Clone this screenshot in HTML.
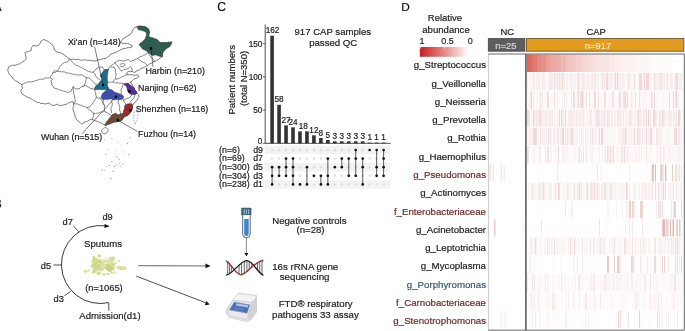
<!DOCTYPE html>
<html><head><meta charset="utf-8"><style>
html,body{margin:0;padding:0;background:#fff;width:685px;height:331px;overflow:hidden}
svg{display:block;will-change:transform}
text{font-family:"Liberation Sans",sans-serif}
</style></head><body>
<svg width="685" height="331" viewBox="0 0 685 331">
<path d="M7.6,70.0 L8.3,68.6 L8.3,67.0 L10.0,66.6 L11.3,65.5 L13.2,65.1 L15.1,65.5 L16.2,64.7 L17.7,64.8 L18.9,64.0 L20.3,63.4 L21.6,62.6 L22.8,61.6 L24.2,61.0 L25.4,59.9 L26.4,58.7 L26.1,57.2 L25.7,55.7 L25.4,54.2 L24.9,52.7 L26.3,52.0 L27.9,51.9 L29.4,51.1 L31.0,50.4 L31.3,48.9 L31.7,47.4 L32.6,46.4 L33.2,45.1 L35.0,45.9 L37.0,45.9 L38.7,45.1 L40.0,43.6 L40.8,41.3 L42.3,40.4 L43.8,39.4 L46.1,40.6 L48.0,41.3 L49.5,42.4 L51.0,43.6 L52.3,45.0 L53.3,46.6 L54.1,48.0 L54.1,49.6 L55.5,50.5 L56.3,51.9 L58.2,52.3 L60.1,52.7 L61.7,53.3 L63.1,54.1 L64.6,54.9 L65.6,56.2 L67.1,56.9 L68.4,57.9 L69.5,58.7 L70.7,59.5 L72.2,59.3 L73.7,59.1 L75.2,59.5 L76.7,59.4 L78.3,59.3 L79.8,59.7 L81.3,60.3 L82.8,59.9 L84.3,60.1 L85.8,59.7 L87.3,60.4 L88.8,60.4 L90.3,60.2 L91.9,60.8 L93.6,60.9 L95.5,60.8 L97.3,59.9 L98.9,59.8 L100.5,59.6 L102.1,59.0 L103.5,58.6 L105.0,58.5 L106.5,58.1 L107.5,57.0 L108.9,56.4 L109.8,55.2 L110.9,54.1 L112.3,53.6 L114.2,53.1 L115.9,52.2 L117.3,51.7 L118.5,50.9 L119.9,50.2 L121.3,49.5 L122.7,48.8 L124.1,48.5 L125.6,48.5 L126.9,47.8 L128.5,47.6 L130.1,47.7 L131.7,47.2 L132.2,45.6 L130.5,44.9 L129.0,44.0 L127.6,43.5 L126.2,43.3 L124.8,43.5 L123.4,43.4 L122.0,43.1 L120.6,43.0 L121.1,40.9 L122.4,39.8 L123.2,38.2 L124.9,37.6 L126.4,36.6 L128.0,35.8 L129.6,35.1 L130.5,33.8 L131.7,32.9 L132.1,31.3 L132.8,29.8 L133.7,28.8 L134.3,27.6 L136.6,26.8 L138.4,26.1 L140.4,26.0 L141.8,26.6 L143.4,26.3 L144.9,26.8 L146.2,28.2 L148.0,29.1 L148.9,30.5 L149.5,32.1 L148.6,33.2 L148.3,34.6 L148.0,35.9 L148.7,37.4 L150.6,37.8 L152.5,38.1 L153.8,38.6 L155.0,39.2 L156.3,39.6 L157.5,40.7 L158.9,41.5 L160.0,42.7 L161.3,42.4 L162.7,42.7 L164.0,43.1 L165.3,42.7 L166.7,42.7 L168.0,42.0 L169.4,42.5 L170.8,42.3 L172.1,41.9 L171.3,43.0 L171.4,44.5 L170.6,45.7 L169.2,46.3 L168.3,47.6 L166.8,48.0 L165.2,49.0 L163.8,50.2 L163.2,51.8 L162.3,53.2 L162.2,55.1 L161.6,57.0 L159.6,58.3 L157.8,60.1 L156.4,60.4 L155.4,61.3 L153.0,61.9 L151.7,63.1 L150.0,63.7 L148.7,64.6 L147.5,65.6 L146.0,65.9 L144.9,67.0 L143.6,67.6 L142.1,68.0 L140.7,68.5 L139.7,69.7 L138.5,70.4 L136.0,71.0 L134.8,72.8 L133.5,72.0 L132.0,71.5 L130.4,71.7 L129.0,71.0 L127.0,72.5 L126.8,74.8 L129.3,74.7 L130.9,74.8 L132.6,74.8 L134.2,75.3 L136.0,75.2 L137.8,74.7 L139.0,76.5 L137.7,77.7 L136.0,78.3 L134.3,78.8 L133.0,80.1 L132.0,81.3 L130.5,81.9 L131.0,83.2 L132.1,84.1 L132.4,85.5 L133.5,86.6 L134.2,88.0 L134.5,89.3 L135.4,90.4 L136.3,91.5 L136.6,92.8 L137.8,94.0 L138.7,95.1 L139.0,96.4 L138.2,97.5 L137.8,98.8 L137.0,100.1 L136.0,101.3 L135.3,102.5 L134.0,103.0 L132.8,105.0 L132.1,106.4 L132.6,108.1 L132.0,109.5 L131.6,111.0 L130.7,112.1 L129.8,113.3 L128.6,114.4 L127.5,115.6 L126.2,115.9 L125.1,116.9 L123.7,117.1 L123.0,118.6 L122.0,119.9 L120.7,120.9 L119.3,121.7 L117.7,121.6 L116.2,121.9 L114.6,121.9 L113.1,122.4 L111.8,122.7 L110.5,123.1 L109.4,123.9 L107.7,124.4 L106.3,125.4 L104.7,125.0 L103.2,124.3 L101.8,123.3 L100.2,122.8 L98.8,121.9 L97.2,121.3 L95.7,120.8 L94.1,120.5 L92.7,119.7 L91.2,119.2 L89.9,119.7 L88.8,120.4 L87.7,121.1 L86.4,121.6 L84.0,122.2 L82.8,124.0 L81.4,123.7 L80.4,122.8 L79.1,121.9 L77.9,121.0 L76.1,119.2 L76.0,117.8 L75.0,116.6 L75.0,115.1 L74.5,113.8 L73.9,112.3 L73.5,110.8 L73.0,109.3 L72.9,107.9 L73.8,106.7 L73.3,105.3 L73.7,104.0 L73.0,101.7 L71.1,102.0 L69.2,102.5 L67.7,103.3 L66.3,104.4 L64.6,104.7 L63.1,104.9 L61.7,105.6 L60.1,105.5 L58.4,105.1 L57.1,104.0 L55.7,104.9 L54.2,105.3 L52.6,105.5 L50.8,104.6 L49.5,103.2 L48.0,103.3 L46.5,103.7 L45.0,104.0 L43.6,103.4 L42.2,103.3 L40.8,103.6 L39.5,102.6 L37.7,102.6 L36.3,101.8 L35.0,101.1 L33.6,100.5 L32.5,99.5 L31.2,98.7 L29.9,98.1 L28.6,97.4 L27.2,97.2 L26.0,96.1 L24.4,95.6 L23.1,94.6 L21.8,93.6 L21.3,92.2 L20.8,90.9 L21.4,89.3 L22.7,88.2 L21.8,86.4 L21.8,84.5 L20.5,83.7 L19.1,83.1 L18.0,82.0 L16.9,81.2 L15.5,80.9 L14.4,80.0 L13.3,79.1 L12.6,78.0 L12.1,76.8 L10.9,76.0 L9.9,75.0 L9.1,73.8 L8.6,72.5 L8.1,71.3Z" fill="#fff" stroke="#444" stroke-width="0.7" stroke-linejoin="round"/>
<path d="M52.6,73.0 L53.2,71.8 L54.1,70.8 L55.6,71.0 L57.1,71.0 L58.6,71.4 L60.1,71.5 L61.6,71.9 L63.2,71.7 L64.7,72.0 L66.1,73.0 L67.7,73.0 L69.2,73.1 L70.7,73.4 L72.1,74.3 L73.7,74.2 L75.2,74.5 L76.7,75.0 L78.2,74.8 L79.7,75.1 L81.3,74.8 L82.8,75.3 L84.0,76.2 L85.1,77.1 L86.5,77.6 L86.2,79.1 L85.8,80.6 L85.8,82.1 L84.9,83.5 L84.3,85.1 L83.4,86.2 L82.0,86.6 L80.4,87.6 L79.0,88.9 L77.5,88.8 L76.0,88.9 L74.4,87.9 L73.0,86.6 L72.9,88.2 L71.6,89.5 L71.4,91.1 L70.2,91.7 L68.9,92.0 L67.7,92.7 L66.3,91.8 L64.7,91.5 L63.1,91.1 L61.7,90.2 L60.1,90.2 L58.6,89.6 L57.2,88.8 L55.6,88.6 L54.1,88.1 L53.3,86.4 L51.8,85.1 L51.7,83.1 L51.0,81.3 L51.5,80.0 L52.6,79.1 L51.3,78.6 L50.3,77.6 L50.8,76.0 L52.2,74.7Z" fill="none" stroke="#444" stroke-width="0.65"/>
<path d="M21.8,84.5 L23.2,84.0 L24.5,83.2 L25.9,82.8 L27.2,82.1 L28.6,81.7 L30.1,82.0 L31.6,81.8 L33.0,81.5 L34.4,81.2 L35.6,80.5 L37.0,80.4 L38.2,79.8 L39.4,79.3 L40.8,79.1 L42.4,79.2 L43.9,79.0 L45.2,77.9 L46.8,78.0 L48.6,78.1 L50.3,77.6" fill="none" stroke="#444" stroke-width="0.65"/>
<path d="M52.6,73.0 L54.1,72.6 L55.6,72.3 L56.6,71.3 L57.9,70.6 L58.6,69.3 L59.3,67.8 L60.1,66.3 L61.1,65.3 L62.2,64.3 L63.1,63.2 L64.5,62.4 L66.2,62.2 L67.7,61.7 L68.6,60.3 L69.2,58.7" fill="none" stroke="#444" stroke-width="0.65"/>
<path d="M69.2,58.7 L70.7,60.5 L71.8,61.5 L72.9,62.5 L74.0,63.7 L75.2,64.7 L76.6,65.6 L78.3,65.9 L79.7,67.0 L81.4,67.4 L82.8,68.4 L84.3,69.3 L85.9,69.9 L87.2,71.0 L88.8,71.5 L90.3,71.9 L91.8,72.1 L93.3,72.3" fill="none" stroke="#444" stroke-width="0.65"/>
<path d="M73.0,86.6 L73.4,88.1 L73.2,89.7 L73.4,91.2 L73.7,92.7 L73.7,94.3 L74.5,95.7 L74.5,97.2 L75.1,99.1 L75.2,101.0 L74.7,102.6 L73.7,104.0" fill="none" stroke="#444" stroke-width="0.65"/>
<path d="M73.7,104.0 L76.0,103.9 L77.6,103.9 L79.0,104.8 L80.5,105.2 L82.1,105.4 L83.4,106.5 L85.2,106.7 L86.6,107.7 L88.0,107.1 L89.6,106.9 L90.8,105.8 L91.8,104.5 L92.7,103.1 L93.7,101.5 L94.9,100.1 L95.8,98.7 L96.4,97.1 L96.0,95.6 L95.7,94.1 L95.6,92.4 L94.8,90.9 L94.8,89.2" fill="none" stroke="#444" stroke-width="0.65"/>
<path d="M82.0,86.6 L83.7,86.2 L85.1,85.0 L86.5,85.4 L87.2,86.7 L88.6,87.0 L89.6,88.0 L91.0,88.9 L92.8,88.6 L94.2,89.5 L94.8,89.2" fill="none" stroke="#444" stroke-width="0.65"/>
<path d="M86.5,77.6 L88.3,77.9 L90.0,78.5 L91.3,79.7 L92.5,81.0 L93.6,82.1 L94.6,83.3 L95.6,84.5 L96.6,83.8" fill="none" stroke="#444" stroke-width="0.65"/>
<path d="M93.3,72.3 L95.0,74.0 L95.7,75.8 L96.5,77.5 L98.5,79.0 L100.3,80.2" fill="none" stroke="#444" stroke-width="0.65"/>
<path d="M93.3,72.3 L94.0,71.0 L95.2,70.2 L96.0,69.0 L97.2,68.3 L98.3,67.6 L99.7,67.2 L101.1,67.1 L102.5,67.0 L103.2,68.2 L103.8,69.3 L104.5,70.5" fill="none" stroke="#444" stroke-width="0.65"/>
<path d="M108.7,69.3 L108.6,68.1 L109.9,67.0 L111.0,65.7 L112.4,65.0 L113.5,63.9 L115.0,62.7 L116.5,61.5 L118.0,60.9 L119.5,60.3 L121.1,60.4 L122.6,61.1 L124.3,60.9 L125.7,60.3 L127.1,59.8 L128.6,59.7 L130.4,61.5 L132.1,60.7 L134.0,60.3 L135.1,59.5 L136.3,59.0 L137.6,58.5 L138.7,57.7 L139.9,56.9 L141.3,56.6 L142.5,55.9 L143.7,55.2 L145.0,54.8 L146.6,53.7 L148.1,52.5" fill="none" stroke="#444" stroke-width="0.65"/>
<path d="M110.5,66.9 L112.3,67.3 L114.2,66.9 L114.7,68.2 L115.4,69.3 L115.4,71.0 L115.4,72.6 L116.0,74.2 L116.0,75.8 L115.5,77.4 L115.4,79.0 L113.9,80.3 L113.0,82.0 L111.1,82.0 L109.3,82.6 L107.7,81.6" fill="none" stroke="#444" stroke-width="0.65"/>
<path d="M114.2,62.1 L115.3,63.1 L116.0,64.5 L118.0,66.0 L118.7,67.4 L119.6,68.7 L120.4,70.0 L121.4,71.1 L122.6,70.5 L123.7,69.7 L125.0,69.3 L126.9,69.0 L128.7,68.1 L130.5,66.5" fill="none" stroke="#444" stroke-width="0.65"/>
<path d="M119.6,64.2 L121.2,64.1 L122.6,63.3 L123.9,63.6 L125.0,64.5 L124.1,66.0 L122.6,66.9 L120.2,66.2" fill="none" stroke="#444" stroke-width="0.65"/>
<path d="M115.4,79.0 L117.3,79.0 L119.0,78.2 L120.7,77.7 L122.1,76.5 L123.8,76.3 L125.1,75.0 L126.8,74.8" fill="none" stroke="#444" stroke-width="0.65"/>
<path d="M113.0,82.0 L114.3,82.5 L115.6,83.0 L117.0,83.0 L118.3,82.7 L119.7,83.4 L121.0,83.0 L123.3,83.7" fill="none" stroke="#444" stroke-width="0.65"/>
<path d="M123.3,83.7 L122.8,86.0 L122.2,87.3 L121.5,88.5 L121.0,90.2 L121.3,92.0 L121.0,93.6 L121.6,95.1 L121.3,96.7" fill="none" stroke="#444" stroke-width="0.65"/>
<path d="M130.5,81.9 L129.9,83.1" fill="none" stroke="#444" stroke-width="0.65"/>
<path d="M131.8,94.5 L131.0,96.5 L129.0,98.0 L127.5,98.4 L126.0,99.0 L124.7,99.3 L123.5,100.0 L123.1,98.7 L121.8,98.0 L121.3,96.7" fill="none" stroke="#444" stroke-width="0.65"/>
<path d="M136.6,92.8 L135.8,94.4 L134.5,95.5 L134.3,97.1 L133.5,98.5 L132.2,99.7 L131.0,101.0 L130.2,102.4 L129.0,103.5" fill="none" stroke="#444" stroke-width="0.65"/>
<path d="M126.7,105.0 L125.9,104.0 L125.0,103.0 L124.1,101.6 L123.5,100.0" fill="none" stroke="#444" stroke-width="0.65"/>
<path d="M119.0,99.0 L118.5,100.7 L118.0,102.5 L118.9,104.2 L119.5,106.0 L119.9,107.3 L119.4,108.7 L119.5,110.0 L120.2,111.3 L120.5,112.7 L120.7,114.1" fill="none" stroke="#444" stroke-width="0.65"/>
<path d="M110.8,100.1 L111.7,101.5 L112.1,103.0 L112.3,104.6 L111.9,106.2 L111.1,107.6 L110.8,109.2 L111.5,111.0 L111.6,113.0" fill="none" stroke="#444" stroke-width="0.65"/>
<path d="M103.1,99.0 L103.4,100.3 L103.3,101.7 L103.0,103.0 L104.0,104.5 L104.7,106.1 L104.3,107.4 L104.7,108.8 L104.5,110.1 L104.7,111.4" fill="none" stroke="#444" stroke-width="0.65"/>
<path d="M100.2,98.6 L101.3,100.1 L102.5,101.6 L103.1,103.2 L103.7,104.7 L104.7,106.1" fill="none" stroke="#444" stroke-width="0.65"/>
<path d="M96.4,97.1 L98.5,98.0 L100.2,98.6 L101.6,97.5" fill="none" stroke="#444" stroke-width="0.65"/>
<path d="M86.6,107.7 L87.7,108.5 L88.7,109.4 L89.9,110.1 L91.1,110.7 L92.0,112.1 L93.4,113.0 L95.7,113.7 L97.1,113.0 L98.8,113.1 L100.2,112.2 L101.7,112.0 L103.2,111.9 L104.7,111.4 L106.1,112.4 L107.8,113.0 L108.8,114.2 L110.4,114.6 L111.6,115.6" fill="none" stroke="#444" stroke-width="0.65"/>
<path d="M92.7,119.7 L92.9,117.8 L93.4,116.0 L93.8,114.5 L93.4,113.0" fill="none" stroke="#444" stroke-width="0.65"/>
<path d="M137.6,58.5 L139.5,60.0 L141.5,61.5 L142.7,62.2 L144.0,62.5 L145.4,63.3 L146.3,64.6 L147.5,65.6" fill="none" stroke="#444" stroke-width="0.65"/>
<path d="M148.1,52.5 L148.6,53.7 L149.4,54.8 L150.0,56.0 L150.8,57.3 L152.3,58.1 L153.0,59.5 L154.1,60.5 L155.4,61.3" fill="none" stroke="#444" stroke-width="0.65"/>
<path d="M130.5,66.5 L131.5,67.6 L132.0,69.0 L132.0,71.5" fill="none" stroke="#444" stroke-width="0.65"/>
<path d="M136.8,26.8 L138.7,26.4 L140.6,26.0 L141.9,26.1 L143.2,26.5 L144.6,26.5 L145.9,26.8 L147.4,27.9 L148.9,29.1 L149.0,30.7 L149.6,32.1 L149.5,33.6 L148.9,35.1 L149.6,37.4 L151.5,37.7 L153.4,38.1 L154.6,38.7 L156.0,38.9 L157.2,39.6 L158.3,40.5 L159.1,41.8 L160.2,42.7 L161.5,42.9 L162.8,42.6 L164.2,42.5 L165.5,42.7 L167.0,42.7 L168.5,42.2 L170.0,42.2 L171.5,41.9 L170.9,43.4 L170.4,44.9 L170.0,46.4 L168.7,47.0 L167.4,47.7 L166.3,48.7 L165.1,49.8 L164.0,51.0 L163.1,52.4 L162.5,54.0 L162.4,55.5 L162.5,57.0 L161.0,56.6 L159.5,56.3 L158.2,55.8 L156.9,55.4 L155.7,54.7 L154.2,55.2 L152.7,55.5 L151.1,54.7 L149.7,53.4 L148.1,52.5 L146.7,51.3 L145.1,50.2 L143.5,49.6 L142.1,48.7 L141.1,47.1 L139.8,45.7 L139.1,44.2 L140.5,43.0 L142.1,41.9 L143.2,41.0 L144.1,39.9 L145.1,38.9 L145.5,37.6 L146.0,36.3 L146.6,35.1 L146.3,33.6 L145.9,32.1 L144.6,31.6 L143.4,31.0 L142.1,30.6 L140.2,30.1 L138.3,29.8 L137.7,28.2Z" fill="#2f5d4f" stroke="#333" stroke-width="0.5"/>
<path d="M104.6,69.5 L106.5,69.3 L108.4,69.2 L108.3,70.6 L107.9,71.9 L107.7,73.3 L107.6,75.2 L107.2,77.1 L107.4,78.6 L107.3,80.1 L107.7,81.6 L107.7,83.5 L107.2,85.4 L108.1,86.9 L108.9,88.4 L107.7,89.9 L106.2,89.7 L104.6,89.6 L103.1,89.8 L101.6,89.8 L100.1,89.6 L98.8,89.4 L97.4,89.4 L96.1,89.7 L94.8,89.6 L94.4,88.4 L95.6,86.2 L96.6,85.1 L97.8,84.3 L98.8,83.4 L99.4,82.2 L100.6,81.1 L101.9,80.1 L101.9,77.7 L100.1,76.3 L100.9,74.4 L102.4,72.3 L103.5,70.9Z" fill="#1a6e8c" stroke="#333" stroke-width="0.5"/>
<path d="M107.7,89.2 L109.6,89.4 L111.4,89.6 L112.7,90.5 L113.9,91.6 L115.2,92.5 L116.7,92.8 L118.1,93.4 L119.5,93.8 L120.9,94.7 L122.5,95.2 L123.8,97.0 L123.1,98.3 L122.0,99.3 L119.8,99.6 L118.3,99.8 L116.7,99.6 L115.2,99.8 L113.9,99.7 L112.6,99.4 L111.4,98.9 L109.5,99.0 L107.7,99.5 L106.1,99.3 L104.4,99.6 L102.8,99.5 L101.8,98.6 L101.0,97.5 L101.7,96.1 L101.9,94.5 L102.8,93.3 L103.9,92.2 L105.1,91.3 L106.2,90.4Z" fill="#3d4fae" stroke="#333" stroke-width="0.5"/>
<path d="M123.5,83.9 L125.0,83.6 L126.5,83.3 L128.1,83.1 L129.3,84.2 L130.6,85.1 L131.8,86.2 L133.0,87.1 L134.2,88.0 L134.6,89.3 L135.4,90.4 L136.4,91.6 L137.1,93.0 L136.1,93.8 L134.9,94.5 L133.4,94.4 L131.8,94.5 L130.2,93.9 L128.8,93.0 L127.9,91.5 L127.3,89.9 L127.1,88.4 L126.6,86.9 L125.7,85.7 L124.5,85.0Z" fill="#5a2d96" stroke="#333" stroke-width="0.5"/>
<path d="M123.0,113.3 L123.4,112.0 L123.6,110.6 L124.2,109.3 L124.5,108.0 L124.6,106.5 L125.0,105.0 L126.5,104.4 L128.0,103.8 L129.6,103.9 L131.1,103.5 L132.8,105.0 L132.7,106.5 L132.4,108.0 L132.0,109.5 L131.2,110.7 L130.7,112.1 L129.8,113.3 L128.8,114.6 L127.5,115.6 L126.2,115.9 L124.9,116.4 L123.7,117.1 L123.3,115.2Z" fill="#a0282a" stroke="#333" stroke-width="0.5"/>
<path d="M104.7,125.0 L105.5,123.8 L106.1,122.5 L107.0,121.3 L108.1,120.1 L108.9,118.7 L110.0,117.5 L111.1,116.0 L112.3,114.5 L113.9,114.0 L115.3,113.0 L116.6,113.7 L117.7,114.8 L119.2,114.4 L120.7,114.1 L123.0,113.3 L123.3,115.2 L123.7,117.1 L123.0,118.6 L122.0,119.9 L120.7,120.9 L119.2,121.4 L117.7,121.6 L116.1,121.7 L114.6,121.9 L113.1,122.4 L111.9,123.0 L110.7,123.5 L109.4,123.9 L107.7,124.4 L106.3,125.4Z" fill="#6e4a36" stroke="#333" stroke-width="0.5"/>
<ellipse cx="104.9" cy="130.7" rx="3.5" ry="2.9" fill="#fff" stroke="#555" stroke-width="0.6" transform="rotate(-35 104.9 130.7)"/>
<path d="M134.2,111.5 L136.8,109.8 L138.2,113 L137,119.5 L135,124.5 L133.4,119Z" fill="none" stroke="#777" stroke-width="0.55" stroke-dasharray="1.6 1.1"/>
<path d="M104.2,139.3 l0.9,1.3" stroke="#999" stroke-width="0.8"/>
<path d="M111.4,138.1 l0.9,1.3" stroke="#aaa" stroke-width="0.8"/>
<path d="M117.4,141.7 l0.9,1.3" stroke="#bbb" stroke-width="0.8"/>
<path d="M127.1,142.9 l0.9,1.3" stroke="#888" stroke-width="0.8"/>
<path d="M129.5,136.9 l0.9,1.3" stroke="#999" stroke-width="0.8"/>
<path d="M105.4,153.8 l0.9,1.3" stroke="#888" stroke-width="0.8"/>
<path d="M128.3,153.8 l0.9,1.3" stroke="#777" stroke-width="0.8"/>
<path d="M116.2,156.2 l0.9,1.3" stroke="#999" stroke-width="0.8"/>
<path d="M111.4,161.1 l0.9,1.3" stroke="#888" stroke-width="0.8"/>
<path d="M118.6,158.6 l0.9,1.3" stroke="#777" stroke-width="0.8"/>
<path d="M122.3,163.5 l0.9,1.3" stroke="#888" stroke-width="0.8"/>
<path d="M109.0,164.7 l0.9,1.3" stroke="#999" stroke-width="0.8"/>
<path d="M113.8,165.9 l0.9,1.3" stroke="#777" stroke-width="0.8"/>
<path d="M101.7,169.5 l0.9,1.3" stroke="#888" stroke-width="0.8"/>
<path d="M112.6,170.7 l0.9,1.3" stroke="#888" stroke-width="0.8"/>
<path d="M110.2,178.0 l0.9,1.3" stroke="#777" stroke-width="0.8"/>
<path d="M118.6,162.3 l0.9,1.3" stroke="#999" stroke-width="0.8"/>
<path d="M106.6,165.9 l0.9,1.3" stroke="#aaa" stroke-width="0.8"/>
<path d="M123.5,151.4 l0.9,1.3" stroke="#bbb" stroke-width="0.8"/>
<path d="M119.9,165.9 l0.9,1.3" stroke="#999" stroke-width="0.8"/>
<path d="M116.2,164.7 l0.9,1.3" stroke="#888" stroke-width="0.8"/>
<path d="M107.8,149.0 l0.9,1.3" stroke="#bbb" stroke-width="0.8"/>
<path d="M121.1,145.4 l0.9,1.3" stroke="#ccc" stroke-width="0.8"/>
<path d="M115.0,150.2 l0.9,1.3" stroke="#ccc" stroke-width="0.8"/>
<path d="M104.2,169.5 l0.9,1.3" stroke="#999" stroke-width="0.8"/>
<g stroke="#222" stroke-width="0.6" fill="none"><path d="M94.6,46.6 L103.1,85"/><path d="M151,48.4 L153,66.8"/><path d="M116,96.7 L81.8,133.9"/><path d="M117.7,120.1 L137.5,131.5"/></g>
<circle cx="103.1" cy="85" r="1.3" fill="#000"/>
<circle cx="151" cy="48.4" r="1.3" fill="#000"/>
<circle cx="116" cy="96.7" r="1.3" fill="#000"/>
<circle cx="129.5" cy="91.2" r="1.3" fill="#000"/>
<circle cx="130.3" cy="110.3" r="1.3" fill="#000"/>
<circle cx="117.7" cy="120.1" r="1.3" fill="#000"/>
<text x="67.9" y="44.8" font-size="8.9" text-anchor="start" fill="#222" stroke="#222" stroke-width="0.2" >Xi'an (n=148)</text>
<text x="145.4" y="73.9" font-size="8.9" text-anchor="start" fill="#222" stroke="#222" stroke-width="0.2" >Harbin (n=210)</text>
<text x="138.1" y="90.9" font-size="8.9" text-anchor="start" fill="#222" stroke="#222" stroke-width="0.2" >Nanjing (n=62)</text>
<text x="135.7" y="111.9" font-size="8.9" text-anchor="start" fill="#222" stroke="#222" stroke-width="0.2" >Shenzhen (n=116)</text>
<text x="138.1" y="136.8" font-size="8.9" text-anchor="start" fill="#222" stroke="#222" stroke-width="0.2" >Fuzhou (n=14)</text>
<text x="41" y="140.4" font-size="8.9" text-anchor="start" fill="#222" stroke="#222" stroke-width="0.2" >Wuhan (n=515)</text>
<text x="-6.6" y="11" font-size="12" text-anchor="start" fill="#111" stroke="#111" stroke-width="0.2" >A</text>
<text x="-6.2" y="207.8" font-size="12" text-anchor="start" fill="#111" stroke="#111" stroke-width="0.2" >B</text>
<text x="217.3" y="10.9" font-size="12.2" text-anchor="start" fill="#111" stroke="#111" stroke-width="0.2" >C</text>
<text x="401.2" y="10.8" font-size="11.8" text-anchor="start" fill="#111" stroke="#111" stroke-width="0.2" >D</text>
<path d="M108.8,302.6 A39,39 0 1 1 105.2,225.8" fill="none" stroke="#222" stroke-width="0.9"/>
<path d="M104.6,223.9 L109.7,226.2 L104.4,228.1Z" fill="#111"/>
<path d="M108.8,303 L108.8,310.8" stroke="#222" stroke-width="0.8"/>
<g stroke="#222" stroke-width="0.8"><path d="M73.3,225.8 L78.8,231.8"/><path d="M53.5,265 L61.7,265"/><path d="M64.4,295.8 L70.6,291.4"/></g>
<text x="62.5" y="225.3" font-size="9.3" text-anchor="start" fill="#222" stroke="#222" stroke-width="0.2" >d7</text>
<text x="102.4" y="220.3" font-size="9.3" text-anchor="start" fill="#222" stroke="#222" stroke-width="0.2" >d9</text>
<text x="40.8" y="268.6" font-size="9.3" text-anchor="start" fill="#222" stroke="#222" stroke-width="0.2" >d5</text>
<text x="53.5" y="301.7" font-size="9.3" text-anchor="start" fill="#222" stroke="#222" stroke-width="0.2" >d3</text>
<text x="84.1" y="247.2" font-size="9.6" text-anchor="start" fill="#222" stroke="#222" stroke-width="0.2" >Sputums</text>
<text x="85.2" y="291.2" font-size="9.3" text-anchor="start" fill="#222" stroke="#222" stroke-width="0.2" >(n=1065)</text>
<text x="79.3" y="318.9" font-size="9.6" text-anchor="start" fill="#222" stroke="#222" stroke-width="0.2" >Admission(d1)</text>
<ellipse cx="95.0" cy="260.4" rx="2.7" ry="2.1" fill="#d2d88f" fill-opacity="0.9"/>
<ellipse cx="98.2" cy="260.9" rx="2.8" ry="2.2" fill="#cfd68a" fill-opacity="0.9"/>
<ellipse cx="94.3" cy="258.3" rx="1.5" ry="1.2" fill="#c8d07e" fill-opacity="0.9"/>
<ellipse cx="107.5" cy="261.9" rx="1.5" ry="1.1" fill="#cfd68a" fill-opacity="0.9"/>
<ellipse cx="107.7" cy="264.7" rx="1.8" ry="1.4" fill="#c8d07e" fill-opacity="0.9"/>
<ellipse cx="109.5" cy="269.9" rx="1.6" ry="1.2" fill="#e3e6b6" fill-opacity="0.9"/>
<ellipse cx="99.6" cy="265.2" rx="3.1" ry="2.4" fill="#d7dc98" fill-opacity="0.9"/>
<ellipse cx="104.2" cy="266.9" rx="3.1" ry="2.4" fill="#cfd68a" fill-opacity="0.9"/>
<ellipse cx="98.8" cy="273.4" rx="2.3" ry="1.8" fill="#d2d88f" fill-opacity="0.9"/>
<ellipse cx="100.0" cy="262.9" rx="3.1" ry="2.4" fill="#cfd68a" fill-opacity="0.9"/>
<ellipse cx="101.1" cy="267.7" rx="1.6" ry="1.2" fill="#cfd68a" fill-opacity="0.9"/>
<ellipse cx="102.5" cy="267.7" rx="2.8" ry="2.1" fill="#e3e6b6" fill-opacity="0.9"/>
<ellipse cx="113.2" cy="264.6" rx="1.9" ry="1.5" fill="#dfe3ad" fill-opacity="0.9"/>
<ellipse cx="99.4" cy="266.9" rx="2.6" ry="2.0" fill="#cfd68a" fill-opacity="0.9"/>
<ellipse cx="92.5" cy="265.2" rx="1.4" ry="1.1" fill="#d7dc98" fill-opacity="0.9"/>
<ellipse cx="109.1" cy="263.4" rx="2.0" ry="1.6" fill="#e3e6b6" fill-opacity="0.9"/>
<ellipse cx="104.5" cy="261.2" rx="2.4" ry="1.8" fill="#d7dc98" fill-opacity="0.9"/>
<ellipse cx="92.8" cy="266.1" rx="2.4" ry="1.9" fill="#cfd68a" fill-opacity="0.9"/>
<ellipse cx="106.7" cy="266.3" rx="2.8" ry="2.1" fill="#c8d07e" fill-opacity="0.9"/>
<ellipse cx="99.4" cy="267.3" rx="2.3" ry="1.7" fill="#c8d07e" fill-opacity="0.9"/>
<ellipse cx="111.8" cy="268.3" rx="2.8" ry="2.1" fill="#dfe3ad" fill-opacity="0.9"/>
<ellipse cx="108.2" cy="266.3" rx="2.4" ry="1.9" fill="#cfd68a" fill-opacity="0.9"/>
<ellipse cx="94.7" cy="271.4" rx="2.3" ry="1.8" fill="#dfe3ad" fill-opacity="0.9"/>
<ellipse cx="100.7" cy="261.7" rx="2.8" ry="2.1" fill="#d2d88f" fill-opacity="0.9"/>
<ellipse cx="109.2" cy="268.9" rx="3.1" ry="2.4" fill="#cfd68a" fill-opacity="0.9"/>
<ellipse cx="102.5" cy="263.0" rx="2.4" ry="1.8" fill="#c8d07e" fill-opacity="0.9"/>
<ellipse cx="113.9" cy="265.7" rx="1.9" ry="1.5" fill="#dfe3ad" fill-opacity="0.9"/>
<ellipse cx="96.2" cy="265.5" rx="1.4" ry="1.1" fill="#d2d88f" fill-opacity="0.9"/>
<ellipse cx="110.8" cy="265.4" rx="2.8" ry="2.2" fill="#cfd68a" fill-opacity="0.9"/>
<ellipse cx="111.7" cy="264.0" rx="1.5" ry="1.2" fill="#c8d07e" fill-opacity="0.9"/>
<ellipse cx="108.7" cy="266.9" rx="1.6" ry="1.2" fill="#c8d07e" fill-opacity="0.9"/>
<ellipse cx="100.9" cy="268.3" rx="3.1" ry="2.4" fill="#cfd68a" fill-opacity="0.9"/>
<ellipse cx="110.4" cy="263.9" rx="2.2" ry="1.7" fill="#d2d88f" fill-opacity="0.9"/>
<ellipse cx="100.8" cy="267.1" rx="2.2" ry="1.7" fill="#cfd68a" fill-opacity="0.9"/>
<ellipse cx="112.6" cy="268.8" rx="2.3" ry="1.7" fill="#cfd68a" fill-opacity="0.9"/>
<ellipse cx="97.4" cy="261.5" rx="1.9" ry="1.5" fill="#d7dc98" fill-opacity="0.9"/>
<ellipse cx="94.8" cy="264.7" rx="2.3" ry="1.8" fill="#e3e6b6" fill-opacity="0.9"/>
<ellipse cx="95.3" cy="269.3" rx="2.7" ry="2.1" fill="#d2d88f" fill-opacity="0.9"/>
<ellipse cx="101.5" cy="264.0" rx="1.9" ry="1.4" fill="#e3e6b6" fill-opacity="0.9"/>
<ellipse cx="101.4" cy="261.7" rx="2.2" ry="1.7" fill="#d2d88f" fill-opacity="0.9"/>
<ellipse cx="99.4" cy="255.7" rx="1.9" ry="1.5" fill="#cfd68a" fill-opacity="0.9"/>
<ellipse cx="102.1" cy="264.2" rx="2.3" ry="1.8" fill="#dfe3ad" fill-opacity="0.9"/>
<ellipse cx="100.5" cy="267.1" rx="1.8" ry="1.4" fill="#e3e6b6" fill-opacity="0.9"/>
<ellipse cx="95.7" cy="259.4" rx="1.9" ry="1.5" fill="#d2d88f" fill-opacity="0.9"/>
<ellipse cx="94.0" cy="271.5" rx="2.0" ry="1.6" fill="#cfd68a" fill-opacity="0.9"/>
<ellipse cx="110.1" cy="260.5" rx="3.1" ry="2.4" fill="#dfe3ad" fill-opacity="0.9"/>
<ellipse cx="94.7" cy="264.0" rx="1.6" ry="1.2" fill="#dfe3ad" fill-opacity="0.9"/>
<ellipse cx="110.2" cy="262.9" rx="2.6" ry="2.0" fill="#d2d88f" fill-opacity="0.9"/>
<ellipse cx="99.6" cy="261.2" rx="2.4" ry="1.9" fill="#e3e6b6" fill-opacity="0.9"/>
<ellipse cx="100.2" cy="268.8" rx="2.9" ry="2.2" fill="#dfe3ad" fill-opacity="0.9"/>
<ellipse cx="102.7" cy="263.7" rx="1.6" ry="1.2" fill="#c8d07e" fill-opacity="0.9"/>
<ellipse cx="99.9" cy="262.9" rx="2.7" ry="2.1" fill="#cfd68a" fill-opacity="0.9"/>
<ellipse cx="101.6" cy="263.7" rx="2.2" ry="1.7" fill="#cfd68a" fill-opacity="0.9"/>
<ellipse cx="110.2" cy="271.1" rx="1.5" ry="1.2" fill="#cfd68a" fill-opacity="0.9"/>
<ellipse cx="94.5" cy="265.0" rx="2.1" ry="1.6" fill="#dfe3ad" fill-opacity="0.9"/>
<ellipse cx="96.2" cy="267.9" rx="2.4" ry="1.8" fill="#cfd68a" fill-opacity="0.9"/>
<ellipse cx="101.7" cy="261.1" rx="1.9" ry="1.5" fill="#dfe3ad" fill-opacity="0.9"/>
<ellipse cx="111.4" cy="258.8" rx="2.6" ry="2.0" fill="#e3e6b6" fill-opacity="0.9"/>
<ellipse cx="101.7" cy="265.2" rx="2.4" ry="1.9" fill="#d7dc98" fill-opacity="0.9"/>
<ellipse cx="100.7" cy="268.6" rx="3.0" ry="2.3" fill="#dfe3ad" fill-opacity="0.9"/>
<ellipse cx="115.1" cy="262.8" rx="2.1" ry="1.6" fill="#e3e6b6" fill-opacity="0.9"/>
<ellipse cx="98.9" cy="261.8" rx="1.6" ry="1.2" fill="#e3e6b6" fill-opacity="0.9"/>
<ellipse cx="97.3" cy="267.3" rx="1.7" ry="1.3" fill="#cfd68a" fill-opacity="0.9"/>
<ellipse cx="98.1" cy="262.4" rx="2.9" ry="2.3" fill="#d7dc98" fill-opacity="0.9"/>
<ellipse cx="98.5" cy="266.7" rx="3.0" ry="2.3" fill="#e3e6b6" fill-opacity="0.9"/>
<ellipse cx="109.1" cy="268.4" rx="2.9" ry="2.2" fill="#c8d07e" fill-opacity="0.9"/>
<ellipse cx="95.2" cy="264.7" rx="2.6" ry="2.0" fill="#c8d07e" fill-opacity="0.9"/>
<ellipse cx="98.7" cy="262.9" rx="3.1" ry="2.4" fill="#c8d07e" fill-opacity="0.9"/>
<ellipse cx="103.0" cy="265.2" rx="3.0" ry="2.3" fill="#dfe3ad" fill-opacity="0.9"/>
<ellipse cx="97.4" cy="264.7" rx="2.2" ry="1.7" fill="#d7dc98" fill-opacity="0.9"/>
<ellipse cx="93.7" cy="256.8" rx="1.7" ry="1.3" fill="#d7dc98" fill-opacity="0.9"/>
<ellipse cx="105.5" cy="257.9" rx="1.3" ry="1.0" fill="#e3e6b6" fill-opacity="0.9"/>
<ellipse cx="98.3" cy="263.5" rx="2.2" ry="1.7" fill="#d7dc98" fill-opacity="0.9"/>
<ellipse cx="103.1" cy="267.3" rx="1.6" ry="1.2" fill="#dfe3ad" fill-opacity="0.9"/>
<ellipse cx="100.5" cy="269.2" rx="2.2" ry="1.7" fill="#d2d88f" fill-opacity="0.9"/>
<ellipse cx="112.2" cy="258.9" rx="2.9" ry="2.3" fill="#d7dc98" fill-opacity="0.9"/>
<ellipse cx="103.4" cy="261.5" rx="2.3" ry="1.7" fill="#dfe3ad" fill-opacity="0.9"/>
<ellipse cx="94.7" cy="260.7" rx="1.3" ry="1.0" fill="#dfe3ad" fill-opacity="0.9"/>
<ellipse cx="95.8" cy="269.1" rx="2.4" ry="1.8" fill="#d7dc98" fill-opacity="0.9"/>
<ellipse cx="111.6" cy="264.6" rx="2.5" ry="2.0" fill="#d7dc98" fill-opacity="0.9"/>
<ellipse cx="109.5" cy="261.6" rx="1.3" ry="1.0" fill="#c8d07e" fill-opacity="0.9"/>
<ellipse cx="94.4" cy="261.4" rx="3.0" ry="2.3" fill="#d2d88f" fill-opacity="0.9"/>
<ellipse cx="97.9" cy="266.9" rx="2.9" ry="2.2" fill="#cfd68a" fill-opacity="0.9"/>
<ellipse cx="109.1" cy="262.1" rx="2.7" ry="2.1" fill="#dfe3ad" fill-opacity="0.9"/>
<ellipse cx="121" cy="268" rx="2.9" ry="2.2" fill="#dadfa0"/>
<ellipse cx="124.5" cy="268.3" rx="2.3" ry="1.8" fill="#dadfa0"/>
<ellipse cx="118.5" cy="267.5" rx="2.3" ry="1.8" fill="#dadfa0"/>
<ellipse cx="85.5" cy="271.5" rx="1.8" ry="1.4" fill="#dadfa0"/>
<ellipse cx="88.5" cy="270.5" rx="1.4" ry="1.1" fill="#dadfa0"/>
<ellipse cx="93" cy="272.5" rx="1.6" ry="1.2" fill="#dadfa0"/>
<ellipse cx="104" cy="274.5" rx="1.8" ry="1.4" fill="#dadfa0"/>
<ellipse cx="108" cy="274" rx="1.6" ry="1.2" fill="#dadfa0"/>
<ellipse cx="112" cy="273" rx="1.7" ry="1.3" fill="#dadfa0"/>
<ellipse cx="115" cy="272.2" rx="1.3" ry="1.0" fill="#dadfa0"/>
<ellipse cx="119" cy="261" rx="1.2" ry="0.9" fill="#dadfa0"/>
<path d="M138.3,265.7 L206,265.9" stroke="#858585" stroke-width="1.25"/>
<path d="M205.5,263.6 L210.5,265.9 L205.5,268.2Z" fill="#111"/>
<path d="M136.3,276.1 L206,302.9" stroke="#222" stroke-width="0.8"/>
<path d="M204.8,305.3 L209.8,304.4 L206.3,300.9Z" fill="#111"/>
<rect x="241.2" y="207.8" width="10.2" height="7.4" fill="#3e6684" rx="0.5"/>
<g stroke="#cfe0ee" stroke-width="0.7"><path d="M244.3,209.3 V214"/><path d="M246.4,209.3 V214"/><path d="M248.6,209.3 V214"/></g>
<path d="M242.7,215.2 V234 A3.75,3.75 0 0 0 250.2,234 V215.2" fill="#fff" stroke="#3a5a76" stroke-width="0.9"/>
<path d="M244.2,218.9 H248.7 V233.8 A2.25,2.25 0 0 1 244.2,233.8Z" fill="#3f85c8"/>
<path d="M246.4,238 V253.5" stroke="#777" stroke-width="0.9"/>
<path d="M244.4,252.9 L246.4,256.3 L248.4,252.9Z" fill="#111"/>
<path d="M227.7,261.8 V274.8 M229.6,263.8 V273.8 M231.4,266.1 V272.3 M239,265.1 V274.3 M241.6,262.9 V274.7 M244.3,261.3 V273.6 M246.9,260.7 V271.6 M249.2,261.3 V269.6 M251.8,263.3 V267.2 M257.5,262.6 V270.0 M259.8,261.3 V272.7 M262,260.7 V274.6" stroke="#333" stroke-width="0.75"/>
<path d="M225.8,261 C230,261 235,275 241,274.8 C247,274.6 255,260.6 263.5,260.5" fill="none" stroke="#9e2a2a" stroke-width="1.3"/>
<path d="M226,275.2 C232,275 240,260.7 246.9,260.7 C253,260.7 259,275 263.5,275.1" fill="none" stroke="#1a1a1a" stroke-width="1.3"/>
<g stroke="#c4c4c8" stroke-width="0.5" stroke-linejoin="round">
<path d="M226.4,309.5 L232.8,300 L238.6,293.2 L256.4,295.4 L256.6,312 L250.5,320.6 L245.5,321.6 L229,317.4 L226.2,313.5Z" fill="#e4e4e7"/>
<path d="M233.2,298.8 L238.8,293.4 L256.1,295.6 L255.5,299.2 L251.1,302.4 L233.7,300.2Z" fill="#f3f3f5"/>
<path d="M251.3,302.6 L256.2,298.8 L256.3,312 L249.5,320 L248.3,315.2Z" fill="#d2d2d6"/>
<path d="M227.2,309.6 L233.4,300.4 L251.3,302.8 L248.3,315.3 L246,319.6 L229.2,315.4Z" fill="#ebebee"/>
<path d="M229.2,309.9 L234.3,302 L249.9,304.8 L247.1,313.3Z" fill="#4f6fb2" stroke="#8ea2c8"/>
<path d="M236.4,303.2 L248.4,305.2 L247.7,307.5 L235.7,305.5Z" fill="#b2c5e6" stroke="none"/>
<path d="M234,308 L244,309.6 M233,310.2 L243,311.8" stroke="#7f98c9" stroke-width="0.6"/>
</g>
<text x="309.4" y="223.8" font-size="9.65" text-anchor="middle" fill="#222" stroke="#222" stroke-width="0.2" >Negative controls</text>
<text x="310.5" y="233" font-size="9.65" text-anchor="middle" fill="#222" stroke="#222" stroke-width="0.2" >(n=28)</text>
<text x="305.2" y="269.5" font-size="9.75" text-anchor="middle" fill="#222" stroke="#222" stroke-width="0.2" >16s rRNA gene</text>
<text x="304.6" y="279.5" font-size="9.75" text-anchor="middle" fill="#222" stroke="#222" stroke-width="0.2" >sequencing</text>
<text x="315.7" y="306.5" font-size="9.65" text-anchor="middle" fill="#222" stroke="#222" stroke-width="0.2" >FTD® respiratory</text>
<text x="315.4" y="317.5" font-size="9.7" text-anchor="middle" fill="#222" stroke="#222" stroke-width="0.2" >pathogens 33 assay</text>
<rect x="264.5" y="145.7" width="126" height="8.6" fill="#f3f3f3"/>
<rect x="264.5" y="162.9" width="126" height="8.6" fill="#f3f3f3"/>
<rect x="264.5" y="180.1" width="126" height="8.6" fill="#f3f3f3"/>
<rect x="270.30" y="35.73" width="3.6" height="107.57" fill="#333"/>
<rect x="277.27" y="104.79" width="3.6" height="38.51" fill="#333"/>
<rect x="284.24" y="125.37" width="3.6" height="17.93" fill="#333"/>
<rect x="291.21" y="127.36" width="3.6" height="15.94" fill="#333"/>
<rect x="298.18" y="131.35" width="3.6" height="11.95" fill="#333"/>
<rect x="305.15" y="131.35" width="3.6" height="11.95" fill="#333"/>
<rect x="312.12" y="135.33" width="3.6" height="7.97" fill="#333"/>
<rect x="319.09" y="137.99" width="3.6" height="5.31" fill="#333"/>
<rect x="326.06" y="139.98" width="3.6" height="3.32" fill="#333"/>
<rect x="333.03" y="141.31" width="3.6" height="1.99" fill="#333"/>
<rect x="340.00" y="141.31" width="3.6" height="1.99" fill="#333"/>
<rect x="346.97" y="141.31" width="3.6" height="1.99" fill="#333"/>
<rect x="353.94" y="141.31" width="3.6" height="1.99" fill="#333"/>
<rect x="360.91" y="141.31" width="3.6" height="1.99" fill="#333"/>
<rect x="367.88" y="142.64" width="3.6" height="0.66" fill="#333"/>
<rect x="374.85" y="142.64" width="3.6" height="0.66" fill="#333"/>
<rect x="381.82" y="142.64" width="3.6" height="0.66" fill="#333"/>
<path d="M265.2,24.5 V143.3 H390.7" fill="none" stroke="#222" stroke-width="0.8"/>
<path d="M262.8,143.30 H265.2" stroke="#222" stroke-width="0.7"/>
<text x="262.3" y="144.20000000000002" font-size="8.2" text-anchor="end" fill="#222" stroke="#222" stroke-width="0.2" >0</text>
<path d="M262.8,110.10 H265.2" stroke="#222" stroke-width="0.7"/>
<text x="262.3" y="113.00000000000001" font-size="8.2" text-anchor="end" fill="#222" stroke="#222" stroke-width="0.2" >50</text>
<path d="M262.8,76.90 H265.2" stroke="#222" stroke-width="0.7"/>
<text x="262.3" y="79.80000000000001" font-size="8.2" text-anchor="end" fill="#222" stroke="#222" stroke-width="0.2" >100</text>
<path d="M262.8,43.70 H265.2" stroke="#222" stroke-width="0.7"/>
<text x="262.3" y="46.6" font-size="8.2" text-anchor="end" fill="#222" stroke="#222" stroke-width="0.2" >150</text>
<text x="272.6" y="33.332" font-size="8.2" text-anchor="middle" fill="#222" stroke="#222" stroke-width="0.2" >162</text>
<text x="279.07000000000005" y="102.388" font-size="8.2" text-anchor="middle" fill="#222" stroke="#222" stroke-width="0.2" >58</text>
<text x="286.04" y="122.97200000000001" font-size="8.2" text-anchor="middle" fill="#222" stroke="#222" stroke-width="0.2" >27</text>
<text x="293.01000000000005" y="124.964" font-size="8.2" text-anchor="middle" fill="#222" stroke="#222" stroke-width="0.2" >24</text>
<text x="303.2" y="128.948" font-size="8.2" text-anchor="middle" fill="#222" stroke="#222" stroke-width="0.2" >18</text>
<text x="313.92" y="132.93200000000002" font-size="8.2" text-anchor="middle" fill="#222" stroke="#222" stroke-width="0.2" >12</text>
<text x="320.89000000000004" y="135.588" font-size="8.2" text-anchor="middle" fill="#222" stroke="#222" stroke-width="0.2" >8</text>
<text x="327.86" y="137.58" font-size="8.2" text-anchor="middle" fill="#222" stroke="#222" stroke-width="0.2" >5</text>
<text x="334.83000000000004" y="138.90800000000002" font-size="8.2" text-anchor="middle" fill="#222" stroke="#222" stroke-width="0.2" >3</text>
<text x="341.8" y="138.90800000000002" font-size="8.2" text-anchor="middle" fill="#222" stroke="#222" stroke-width="0.2" >3</text>
<text x="348.77000000000004" y="138.90800000000002" font-size="8.2" text-anchor="middle" fill="#222" stroke="#222" stroke-width="0.2" >3</text>
<text x="355.74" y="138.90800000000002" font-size="8.2" text-anchor="middle" fill="#222" stroke="#222" stroke-width="0.2" >3</text>
<text x="362.71000000000004" y="138.90800000000002" font-size="8.2" text-anchor="middle" fill="#222" stroke="#222" stroke-width="0.2" >3</text>
<text x="369.68" y="140.23600000000002" font-size="8.2" text-anchor="middle" fill="#222" stroke="#222" stroke-width="0.2" >1</text>
<text x="376.65000000000003" y="140.23600000000002" font-size="8.2" text-anchor="middle" fill="#222" stroke="#222" stroke-width="0.2" >1</text>
<text x="383.62" y="140.23600000000002" font-size="8.2" text-anchor="middle" fill="#222" stroke="#222" stroke-width="0.2" >1</text>
<text x="332.8" y="35" font-size="9.6" text-anchor="middle" fill="#222" stroke="#222" stroke-width="0.2" >917 CAP samples</text>
<text x="333.2" y="46.3" font-size="9.6" text-anchor="middle" fill="#222" stroke="#222" stroke-width="0.2" >passed QC</text>
<text transform="translate(235.3,79.8) rotate(-90)" font-size="9.55" text-anchor="middle" fill="#222" stroke="#222" stroke-width="0.2">Patient numbers</text>
<text transform="translate(246.6,78.5) rotate(-90)" font-size="9.5" text-anchor="middle" fill="#222" stroke="#222" stroke-width="0.2">(total N=350)</text>
<circle cx="272.10" cy="150.0" r="1.2" fill="#dcdcdc"/>
<circle cx="272.10" cy="158.6" r="1.2" fill="#dcdcdc"/>
<circle cx="279.07" cy="150.0" r="1.2" fill="#dcdcdc"/>
<circle cx="279.07" cy="158.6" r="1.2" fill="#dcdcdc"/>
<circle cx="279.07" cy="184.4" r="1.2" fill="#dcdcdc"/>
<circle cx="286.04" cy="150.0" r="1.2" fill="#dcdcdc"/>
<circle cx="286.04" cy="184.4" r="1.2" fill="#dcdcdc"/>
<circle cx="293.01" cy="150.0" r="1.2" fill="#dcdcdc"/>
<circle cx="299.98" cy="150.0" r="1.2" fill="#dcdcdc"/>
<circle cx="299.98" cy="158.6" r="1.2" fill="#dcdcdc"/>
<circle cx="299.98" cy="167.2" r="1.2" fill="#dcdcdc"/>
<circle cx="299.98" cy="175.8" r="1.2" fill="#dcdcdc"/>
<circle cx="306.95" cy="150.0" r="1.2" fill="#dcdcdc"/>
<circle cx="306.95" cy="158.6" r="1.2" fill="#dcdcdc"/>
<circle cx="306.95" cy="175.8" r="1.2" fill="#dcdcdc"/>
<circle cx="313.92" cy="150.0" r="1.2" fill="#dcdcdc"/>
<circle cx="313.92" cy="158.6" r="1.2" fill="#dcdcdc"/>
<circle cx="313.92" cy="167.2" r="1.2" fill="#dcdcdc"/>
<circle cx="313.92" cy="184.4" r="1.2" fill="#dcdcdc"/>
<circle cx="320.89" cy="150.0" r="1.2" fill="#dcdcdc"/>
<circle cx="320.89" cy="158.6" r="1.2" fill="#dcdcdc"/>
<circle cx="320.89" cy="167.2" r="1.2" fill="#dcdcdc"/>
<circle cx="327.86" cy="150.0" r="1.2" fill="#dcdcdc"/>
<circle cx="327.86" cy="167.2" r="1.2" fill="#dcdcdc"/>
<circle cx="334.83" cy="150.0" r="1.2" fill="#dcdcdc"/>
<circle cx="334.83" cy="158.6" r="1.2" fill="#dcdcdc"/>
<circle cx="334.83" cy="175.8" r="1.2" fill="#dcdcdc"/>
<circle cx="334.83" cy="184.4" r="1.2" fill="#dcdcdc"/>
<circle cx="341.80" cy="150.0" r="1.2" fill="#dcdcdc"/>
<circle cx="341.80" cy="175.8" r="1.2" fill="#dcdcdc"/>
<circle cx="341.80" cy="184.4" r="1.2" fill="#dcdcdc"/>
<circle cx="348.77" cy="150.0" r="1.2" fill="#dcdcdc"/>
<circle cx="348.77" cy="167.2" r="1.2" fill="#dcdcdc"/>
<circle cx="348.77" cy="184.4" r="1.2" fill="#dcdcdc"/>
<circle cx="355.74" cy="167.2" r="1.2" fill="#dcdcdc"/>
<circle cx="355.74" cy="184.4" r="1.2" fill="#dcdcdc"/>
<circle cx="362.71" cy="150.0" r="1.2" fill="#dcdcdc"/>
<circle cx="362.71" cy="175.8" r="1.2" fill="#dcdcdc"/>
<circle cx="369.68" cy="158.6" r="1.2" fill="#dcdcdc"/>
<circle cx="369.68" cy="167.2" r="1.2" fill="#dcdcdc"/>
<circle cx="369.68" cy="175.8" r="1.2" fill="#dcdcdc"/>
<circle cx="369.68" cy="184.4" r="1.2" fill="#dcdcdc"/>
<circle cx="376.65" cy="158.6" r="1.2" fill="#dcdcdc"/>
<circle cx="376.65" cy="184.4" r="1.2" fill="#dcdcdc"/>
<circle cx="383.62" cy="184.4" r="1.2" fill="#dcdcdc"/>
<path d="M272.10,167.2 V184.4" stroke="#333" stroke-width="0.8"/>
<circle cx="272.10" cy="167.2" r="1.35" fill="#111"/>
<circle cx="272.10" cy="175.8" r="1.35" fill="#111"/>
<circle cx="272.10" cy="184.4" r="1.35" fill="#111"/>
<path d="M279.07,167.2 V175.8" stroke="#333" stroke-width="0.8"/>
<circle cx="279.07" cy="167.2" r="1.35" fill="#111"/>
<circle cx="279.07" cy="175.8" r="1.35" fill="#111"/>
<path d="M286.04,158.6 V175.8" stroke="#333" stroke-width="0.8"/>
<circle cx="286.04" cy="158.6" r="1.35" fill="#111"/>
<circle cx="286.04" cy="167.2" r="1.35" fill="#111"/>
<circle cx="286.04" cy="175.8" r="1.35" fill="#111"/>
<path d="M293.01,158.6 V184.4" stroke="#333" stroke-width="0.8"/>
<circle cx="293.01" cy="158.6" r="1.35" fill="#111"/>
<circle cx="293.01" cy="167.2" r="1.35" fill="#111"/>
<circle cx="293.01" cy="175.8" r="1.35" fill="#111"/>
<circle cx="293.01" cy="184.4" r="1.35" fill="#111"/>
<circle cx="299.98" cy="184.4" r="1.35" fill="#111"/>
<path d="M306.95,167.2 V184.4" stroke="#333" stroke-width="0.8"/>
<circle cx="306.95" cy="167.2" r="1.35" fill="#111"/>
<circle cx="306.95" cy="184.4" r="1.35" fill="#111"/>
<circle cx="313.92" cy="175.8" r="1.35" fill="#111"/>
<path d="M320.89,175.8 V184.4" stroke="#333" stroke-width="0.8"/>
<circle cx="320.89" cy="175.8" r="1.35" fill="#111"/>
<circle cx="320.89" cy="184.4" r="1.35" fill="#111"/>
<path d="M327.86,158.6 V184.4" stroke="#333" stroke-width="0.8"/>
<circle cx="327.86" cy="158.6" r="1.35" fill="#111"/>
<circle cx="327.86" cy="175.8" r="1.35" fill="#111"/>
<circle cx="327.86" cy="184.4" r="1.35" fill="#111"/>
<circle cx="334.83" cy="167.2" r="1.35" fill="#111"/>
<path d="M341.80,158.6 V167.2" stroke="#333" stroke-width="0.8"/>
<circle cx="341.80" cy="158.6" r="1.35" fill="#111"/>
<circle cx="341.80" cy="167.2" r="1.35" fill="#111"/>
<path d="M348.77,158.6 V175.8" stroke="#333" stroke-width="0.8"/>
<circle cx="348.77" cy="158.6" r="1.35" fill="#111"/>
<circle cx="348.77" cy="175.8" r="1.35" fill="#111"/>
<path d="M355.74,150.0 V175.8" stroke="#333" stroke-width="0.8"/>
<circle cx="355.74" cy="150.0" r="1.35" fill="#111"/>
<circle cx="355.74" cy="158.6" r="1.35" fill="#111"/>
<circle cx="355.74" cy="175.8" r="1.35" fill="#111"/>
<path d="M362.71,158.6 V184.4" stroke="#333" stroke-width="0.8"/>
<circle cx="362.71" cy="158.6" r="1.35" fill="#111"/>
<circle cx="362.71" cy="167.2" r="1.35" fill="#111"/>
<circle cx="362.71" cy="184.4" r="1.35" fill="#111"/>
<circle cx="369.68" cy="150.0" r="1.35" fill="#111"/>
<path d="M376.65,150.0 V175.8" stroke="#333" stroke-width="0.8"/>
<circle cx="376.65" cy="150.0" r="1.35" fill="#111"/>
<circle cx="376.65" cy="167.2" r="1.35" fill="#111"/>
<circle cx="376.65" cy="175.8" r="1.35" fill="#111"/>
<path d="M383.62,150.0 V175.8" stroke="#333" stroke-width="0.8"/>
<circle cx="383.62" cy="150.0" r="1.35" fill="#111"/>
<circle cx="383.62" cy="158.6" r="1.35" fill="#111"/>
<circle cx="383.62" cy="167.2" r="1.35" fill="#111"/>
<circle cx="383.62" cy="175.8" r="1.35" fill="#111"/>
<text x="253.2" y="152.8" font-size="8.8" text-anchor="start" fill="#222" stroke="#222" stroke-width="0.2" >d9</text>
<text x="219.1" y="152.8" font-size="8.8" text-anchor="start" fill="#222" stroke="#222" stroke-width="0.2" >(n=6)</text>
<text x="253.2" y="161.4" font-size="8.8" text-anchor="start" fill="#222" stroke="#222" stroke-width="0.2" >d7</text>
<text x="219.1" y="161.4" font-size="8.8" text-anchor="start" fill="#222" stroke="#222" stroke-width="0.2" >(n=69)</text>
<text x="253.2" y="170.0" font-size="8.8" text-anchor="start" fill="#222" stroke="#222" stroke-width="0.2" >d5</text>
<text x="219.1" y="170.0" font-size="8.8" text-anchor="start" fill="#222" stroke="#222" stroke-width="0.2" >(n=300)</text>
<text x="253.2" y="178.60000000000002" font-size="8.8" text-anchor="start" fill="#222" stroke="#222" stroke-width="0.2" >d3</text>
<text x="219.1" y="178.60000000000002" font-size="8.8" text-anchor="start" fill="#222" stroke="#222" stroke-width="0.2" >(n=304)</text>
<text x="253.2" y="187.20000000000002" font-size="8.8" text-anchor="start" fill="#222" stroke="#222" stroke-width="0.2" >d1</text>
<text x="219.1" y="187.20000000000002" font-size="8.8" text-anchor="start" fill="#222" stroke="#222" stroke-width="0.2" >(n=238)</text>
<text x="445" y="21.3" font-size="9.5" text-anchor="middle" fill="#222" stroke="#222" stroke-width="0.2" >Relative</text>
<text x="446" y="32.6" font-size="9.6" text-anchor="middle" fill="#222" stroke="#222" stroke-width="0.2" >abundance</text>
<text x="422" y="44" font-size="9" text-anchor="middle" fill="#222" stroke="#222" stroke-width="0.2" >1</text>
<text x="447.4" y="44" font-size="9" text-anchor="middle" fill="#222" stroke="#222" stroke-width="0.2" >0.5</text>
<text x="470.3" y="44" font-size="9" text-anchor="middle" fill="#222" stroke="#222" stroke-width="0.2" >0</text>
<defs><linearGradient id="lg" x1="0" x2="1"><stop offset="0" stop-color="#c81e1e"/><stop offset="0.5" stop-color="#e88a85"/><stop offset="1" stop-color="#fff"/></linearGradient></defs>
<rect x="419.8" y="47" width="49.1" height="9.8" fill="url(#lg)"/>
<path d="M420.6,47 V48.6 M444.5,47 V48.6" stroke="#fff" stroke-width="0.7"/>
<text x="507.3" y="35.1" font-size="9.5" text-anchor="middle" fill="#222" stroke="#222" stroke-width="0.2" >NC</text>
<text x="596.2" y="35.3" font-size="9.5" text-anchor="middle" fill="#222" stroke="#222" stroke-width="0.2" >CAP</text>
<rect x="488.3" y="38.6" width="36.6" height="12.6" fill="#5e5e5e" stroke="#444" stroke-width="0.8"/>
<rect x="526.4" y="38.6" width="157.5" height="12.6" fill="#e29b1c" stroke="#5a4a30" stroke-width="0.8"/>
<text x="505.8" y="48.7" font-size="9.4" text-anchor="middle" fill="#d8d8d8" stroke="#d8d8d8" stroke-width="0.2" >n=25</text>
<text x="598" y="48.8" font-size="9.4" text-anchor="middle" fill="#f6e6b0" stroke="#f6e6b0" stroke-width="0.2" >n=917</text>
<text x="486" y="68.3" font-size="9.7" text-anchor="end" fill="#222" stroke="#222" stroke-width="0.2" >g_Streptococcus</text>
<text x="486" y="86.59" font-size="9.7" text-anchor="end" fill="#222" stroke="#222" stroke-width="0.2" >g_Veillonella</text>
<text x="486" y="104.88" font-size="9.7" text-anchor="end" fill="#222" stroke="#222" stroke-width="0.2" >g_Neisseria</text>
<text x="486" y="123.16999999999999" font-size="9.7" text-anchor="end" fill="#222" stroke="#222" stroke-width="0.2" >g_Prevotella</text>
<text x="486" y="141.45999999999998" font-size="9.7" text-anchor="end" fill="#222" stroke="#222" stroke-width="0.2" >g_Rothia</text>
<text x="486" y="159.75" font-size="9.7" text-anchor="end" fill="#222" stroke="#222" stroke-width="0.2" >g_Haemophilus</text>
<text x="486" y="178.04" font-size="9.7" text-anchor="end" fill="#6e2a2a" stroke="#6e2a2a" stroke-width="0.2" >g_Pseudomonas</text>
<text x="486" y="196.32999999999998" font-size="9.7" text-anchor="end" fill="#222" stroke="#222" stroke-width="0.2" >g_Actinomyces</text>
<text x="486" y="214.62" font-size="9.7" text-anchor="end" fill="#6e2a2a" stroke="#6e2a2a" stroke-width="0.2" >f_Enterobacteriaceae</text>
<text x="486" y="232.90999999999997" font-size="9.7" text-anchor="end" fill="#222" stroke="#222" stroke-width="0.2" >g_Acinetobacter</text>
<text x="486" y="251.2" font-size="9.7" text-anchor="end" fill="#222" stroke="#222" stroke-width="0.2" >g_Leptotrichia</text>
<text x="486" y="269.49" font-size="9.7" text-anchor="end" fill="#222" stroke="#222" stroke-width="0.2" >g_Mycoplasma</text>
<text x="486" y="287.78" font-size="9.7" text-anchor="end" fill="#3a5670" stroke="#3a5670" stroke-width="0.2" >g_Porphyromonas</text>
<text x="486" y="306.07" font-size="9.7" text-anchor="end" fill="#6e2a2a" stroke="#6e2a2a" stroke-width="0.2" >f_Carnobacteriaceae</text>
<text x="486" y="324.36" font-size="9.7" text-anchor="end" fill="#6e2a2a" stroke="#6e2a2a" stroke-width="0.2" >g_Stenotrophomonas</text>
<path d="M649.0,54.6h1v17.3h-1zM651.0,54.6h1v17.3h-1zM652.0,54.6h1v17.3h-1zM653.0,54.6h1v17.3h-1zM654.0,54.6h1v17.3h-1zM655.0,54.6h1v17.3h-1zM656.0,54.6h1v17.3h-1zM657.0,54.6h1v17.3h-1zM658.0,54.6h1v17.3h-1zM659.0,54.6h1v17.3h-1zM660.0,54.6h1v17.3h-1zM661.0,54.6h1v17.3h-1zM662.0,54.6h1v17.3h-1zM663.0,54.6h1v17.3h-1zM664.0,54.6h1v17.3h-1zM665.0,54.6h1v17.3h-1zM666.0,54.6h1v17.3h-1zM667.0,54.6h1v17.3h-1zM668.0,54.6h1v17.3h-1zM669.0,54.6h1v17.3h-1zM670.0,54.6h1v17.3h-1zM671.0,54.6h1v17.3h-1z" fill="#fefbfa"/>
<path d="M637.0,54.6h1v17.3h-1zM638.0,54.6h1v17.3h-1zM639.0,54.6h1v17.3h-1zM640.0,54.6h1v17.3h-1zM641.0,54.6h1v17.3h-1zM642.0,54.6h1v17.3h-1zM643.0,54.6h1v17.3h-1zM644.0,54.6h1v17.3h-1zM645.0,54.6h1v17.3h-1zM646.0,54.6h1v17.3h-1zM647.0,54.6h1v17.3h-1zM648.0,54.6h1v17.3h-1zM650.0,54.6h1v17.3h-1z" fill="#fdf6f6"/>
<path d="M623.0,54.6h1v17.3h-1zM625.0,54.6h1v17.3h-1zM626.0,54.6h1v17.3h-1zM627.0,54.6h1v17.3h-1zM628.0,54.6h1v17.3h-1zM629.0,54.6h1v17.3h-1zM630.0,54.6h1v17.3h-1zM631.0,54.6h1v17.3h-1zM632.0,54.6h1v17.3h-1zM633.0,54.6h1v17.3h-1zM634.0,54.6h1v17.3h-1zM635.0,54.6h1v17.3h-1zM636.0,54.6h1v17.3h-1z" fill="#fcf2f1"/>
<path d="M615.0,54.6h1v17.3h-1zM617.0,54.6h1v17.3h-1zM618.0,54.6h1v17.3h-1zM619.0,54.6h1v17.3h-1zM620.0,54.6h1v17.3h-1zM621.0,54.6h1v17.3h-1zM622.0,54.6h1v17.3h-1zM624.0,54.6h1v17.3h-1z" fill="#fbeeed"/>
<path d="M609.0,54.6h1v17.3h-1zM610.0,54.6h1v17.3h-1zM611.0,54.6h1v17.3h-1zM612.0,54.6h1v17.3h-1zM613.0,54.6h1v17.3h-1zM614.0,54.6h1v17.3h-1zM616.0,54.6h1v17.3h-1z" fill="#faeae8"/>
<path d="M601.0,54.6h1v17.3h-1zM602.0,54.6h1v17.3h-1zM603.0,54.6h1v17.3h-1zM604.0,54.6h1v17.3h-1zM605.0,54.6h1v17.3h-1zM606.0,54.6h1v17.3h-1zM607.0,54.6h1v17.3h-1zM608.0,54.6h1v17.3h-1z" fill="#f9e5e4"/>
<path d="M594.0,54.6h1v17.3h-1zM596.0,54.6h1v17.3h-1zM597.0,54.6h1v17.3h-1zM598.0,54.6h1v17.3h-1zM599.0,54.6h1v17.3h-1zM600.0,54.6h1v17.3h-1z" fill="#f9e1df"/>
<path d="M591.0,54.6h1v17.3h-1zM592.0,54.6h1v17.3h-1zM593.0,54.6h1v17.3h-1zM595.0,54.6h1v17.3h-1z" fill="#f8ddda"/>
<path d="M586.0,54.6h1v17.3h-1zM587.0,54.6h1v17.3h-1zM588.0,54.6h1v17.3h-1zM589.0,54.6h1v17.3h-1zM590.0,54.6h1v17.3h-1z" fill="#f7d9d6"/>
<path d="M582.0,54.6h1v17.3h-1zM583.0,54.6h1v17.3h-1zM584.0,54.6h1v17.3h-1zM585.0,54.6h1v17.3h-1z" fill="#f6d4d1"/>
<path d="M577.0,54.6h1v17.3h-1zM578.0,54.6h1v17.3h-1zM580.0,54.6h1v17.3h-1zM581.0,54.6h1v17.3h-1z" fill="#f5d0cd"/>
<path d="M576.0,54.6h1v17.3h-1zM579.0,54.6h1v17.3h-1z" fill="#f4ccc8"/>
<path d="M570.0,54.6h1v17.3h-1zM572.0,54.6h1v17.3h-1zM573.0,54.6h1v17.3h-1zM574.0,54.6h1v17.3h-1zM575.0,54.6h1v17.3h-1z" fill="#f3c7c4"/>
<path d="M568.0,54.6h1v17.3h-1zM569.0,54.6h1v17.3h-1zM571.0,54.6h1v17.3h-1z" fill="#f2c3bf"/>
<path d="M566.0,54.6h1v17.3h-1zM567.0,54.6h1v17.3h-1z" fill="#f1bfba"/>
<path d="M562.0,54.6h1v17.3h-1zM565.0,54.6h1v17.3h-1z" fill="#f0bbb6"/>
<path d="M561.0,54.6h1v17.3h-1zM563.0,54.6h1v17.3h-1zM564.0,54.6h1v17.3h-1z" fill="#efb6b1"/>
<path d="M559.0,54.6h1v17.3h-1zM560.0,54.6h1v17.3h-1z" fill="#eeb2ad"/>
<path d="M557.0,54.6h1v17.3h-1zM558.0,54.6h1v17.3h-1z" fill="#edaea8"/>
<path d="M553.0,54.6h1v17.3h-1zM554.0,54.6h1v17.3h-1zM555.0,54.6h1v17.3h-1zM556.0,54.6h1v17.3h-1z" fill="#ecaaa4"/>
<path d="M550.0,54.6h1v17.3h-1zM551.0,54.6h1v17.3h-1zM552.0,54.6h1v17.3h-1z" fill="#eca59f"/>
<path d="M548.0,54.6h1v17.3h-1z" fill="#eba19a"/>
<path d="M547.0,54.6h1v17.3h-1zM549.0,54.6h1v17.3h-1z" fill="#ea9d96"/>
<path d="M546.0,54.6h1v17.3h-1z" fill="#e99891"/>
<path d="M542.0,54.6h1v17.3h-1zM545.0,54.6h1v17.3h-1z" fill="#e8948d"/>
<path d="M544.0,54.6h1v17.3h-1z" fill="#e79088"/>
<path d="M539.0,54.6h1v17.3h-1zM541.0,54.6h1v17.3h-1zM543.0,54.6h1v17.3h-1z" fill="#e68c83"/>
<path d="M537.0,54.6h1v17.3h-1zM538.0,54.6h1v17.3h-1zM540.0,54.6h1v17.3h-1z" fill="#e5877f"/>
<path d="M533.0,54.6h1v17.3h-1zM535.0,54.6h1v17.3h-1zM536.0,54.6h1v17.3h-1z" fill="#e27a71"/>
<path d="M534.0,54.6h1v17.3h-1z" fill="#e1766d"/>
<path d="M532.0,54.6h1v17.3h-1z" fill="#e07268"/>
<path d="M530.0,54.6h1v17.3h-1zM531.0,54.6h1v17.3h-1z" fill="#e06e63"/>
<path d="M528.0,54.6h1v17.3h-1zM529.0,54.6h1v17.3h-1z" fill="#de655a"/>
<path d="M527.0,54.6h1v17.3h-1z" fill="#dd6156"/>
<path d="M528.0,72.9h1v17.3h-1zM531.0,72.9h1v17.3h-1zM541.0,72.9h1v17.3h-1zM546.0,72.9h1v17.3h-1zM547.0,72.9h1v17.3h-1zM572.0,72.9h1v17.3h-1zM576.0,72.9h1v17.3h-1zM599.0,72.9h1v17.3h-1zM605.0,72.9h1v17.3h-1zM613.0,72.9h1v17.3h-1zM625.0,72.9h1v17.3h-1zM631.0,72.9h1v17.3h-1zM632.0,72.9h1v17.3h-1zM636.0,72.9h1v17.3h-1zM637.0,72.9h1v17.3h-1zM652.0,72.9h1v17.3h-1zM665.0,72.9h1v17.3h-1zM669.0,72.9h1v17.3h-1zM673.0,72.9h1v17.3h-1z" fill="#fdfbfb"/>
<path d="M530.0,72.9h1v17.3h-1zM535.0,72.9h1v17.3h-1zM537.0,72.9h1v17.3h-1zM558.0,72.9h1v17.3h-1zM565.0,72.9h1v17.3h-1zM568.0,72.9h1v17.3h-1zM569.0,72.9h1v17.3h-1zM574.0,72.9h1v17.3h-1zM580.0,72.9h1v17.3h-1zM581.0,72.9h1v17.3h-1zM586.0,72.9h1v17.3h-1zM590.0,72.9h1v17.3h-1zM597.0,72.9h1v17.3h-1zM626.0,72.9h1v17.3h-1zM635.0,72.9h1v17.3h-1zM638.0,72.9h1v17.3h-1zM651.0,72.9h1v17.3h-1zM657.0,72.9h1v17.3h-1zM674.0,72.9h1v17.3h-1zM678.0,72.9h1v17.3h-1z" fill="#fcf7f6"/>
<path d="M529.0,72.9h1v17.3h-1zM539.0,72.9h1v17.3h-1zM540.0,72.9h1v17.3h-1zM545.0,72.9h1v17.3h-1zM548.0,72.9h1v17.3h-1zM556.0,72.9h1v17.3h-1zM566.0,72.9h1v17.3h-1zM570.0,72.9h1v17.3h-1zM585.0,72.9h1v17.3h-1zM589.0,72.9h1v17.3h-1zM593.0,72.9h1v17.3h-1zM596.0,72.9h1v17.3h-1zM600.0,72.9h1v17.3h-1zM601.0,72.9h1v17.3h-1zM608.0,72.9h1v17.3h-1zM611.0,72.9h1v17.3h-1zM616.0,72.9h1v17.3h-1zM618.0,72.9h1v17.3h-1zM621.0,72.9h1v17.3h-1zM622.0,72.9h1v17.3h-1zM624.0,72.9h1v17.3h-1zM633.0,72.9h1v17.3h-1zM642.0,72.9h1v17.3h-1zM643.0,72.9h1v17.3h-1zM650.0,72.9h1v17.3h-1zM659.0,72.9h1v17.3h-1zM662.0,72.9h1v17.3h-1zM666.0,72.9h1v17.3h-1zM668.0,72.9h1v17.3h-1z" fill="#faf2f2"/>
<path d="M527.0,72.9h1v17.3h-1zM532.0,72.9h1v17.3h-1zM533.0,72.9h1v17.3h-1zM534.0,72.9h1v17.3h-1zM536.0,72.9h1v17.3h-1zM538.0,72.9h1v17.3h-1zM543.0,72.9h1v17.3h-1zM544.0,72.9h1v17.3h-1zM550.0,72.9h1v17.3h-1zM552.0,72.9h1v17.3h-1zM553.0,72.9h1v17.3h-1zM555.0,72.9h1v17.3h-1zM560.0,72.9h1v17.3h-1zM561.0,72.9h1v17.3h-1zM563.0,72.9h1v17.3h-1zM564.0,72.9h1v17.3h-1zM567.0,72.9h1v17.3h-1zM573.0,72.9h1v17.3h-1zM575.0,72.9h1v17.3h-1zM584.0,72.9h1v17.3h-1zM587.0,72.9h1v17.3h-1zM588.0,72.9h1v17.3h-1zM591.0,72.9h1v17.3h-1zM594.0,72.9h1v17.3h-1zM598.0,72.9h1v17.3h-1zM609.0,72.9h1v17.3h-1zM610.0,72.9h1v17.3h-1zM612.0,72.9h1v17.3h-1zM614.0,72.9h1v17.3h-1zM619.0,72.9h1v17.3h-1zM620.0,72.9h1v17.3h-1zM623.0,72.9h1v17.3h-1zM627.0,72.9h1v17.3h-1zM629.0,72.9h1v17.3h-1zM630.0,72.9h1v17.3h-1zM645.0,72.9h1v17.3h-1zM649.0,72.9h1v17.3h-1zM653.0,72.9h1v17.3h-1zM655.0,72.9h1v17.3h-1zM656.0,72.9h1v17.3h-1zM658.0,72.9h1v17.3h-1zM663.0,72.9h1v17.3h-1zM670.0,72.9h1v17.3h-1zM672.0,72.9h1v17.3h-1zM679.0,72.9h1v17.3h-1zM680.0,72.9h1v17.3h-1zM681.0,72.9h1v17.3h-1z" fill="#f8eeee"/>
<path d="M542.0,72.9h1v17.3h-1zM551.0,72.9h1v17.3h-1zM571.0,72.9h1v17.3h-1zM579.0,72.9h1v17.3h-1zM583.0,72.9h1v17.3h-1zM592.0,72.9h1v17.3h-1zM595.0,72.9h1v17.3h-1zM603.0,72.9h1v17.3h-1zM604.0,72.9h1v17.3h-1zM664.0,72.9h1v17.3h-1zM671.0,72.9h1v17.3h-1z" fill="#f6eae9"/>
<path d="M549.0,72.9h1v17.3h-1zM582.0,72.9h1v17.3h-1zM602.0,72.9h1v17.3h-1zM628.0,72.9h1v17.3h-1zM667.0,72.9h1v17.3h-1z" fill="#f4e6e5"/>
<path d="M554.0,72.9h1v17.3h-1zM559.0,72.9h1v17.3h-1zM577.0,72.9h1v17.3h-1zM578.0,72.9h1v17.3h-1zM634.0,72.9h1v17.3h-1zM654.0,72.9h1v17.3h-1zM660.0,72.9h1v17.3h-1zM661.0,72.9h1v17.3h-1zM675.0,72.9h1v17.3h-1z" fill="#f3e2e0"/>
<path d="M557.0,72.9h1v17.3h-1zM641.0,72.9h1v17.3h-1z" fill="#f1dedc"/>
<path d="M562.0,72.9h1v17.3h-1zM606.0,72.9h1v17.3h-1zM607.0,72.9h1v17.3h-1zM615.0,72.9h1v17.3h-1zM617.0,72.9h1v17.3h-1zM639.0,72.9h1v17.3h-1zM640.0,72.9h1v17.3h-1zM644.0,72.9h1v17.3h-1zM646.0,72.9h1v17.3h-1zM647.0,72.9h1v17.3h-1zM648.0,72.9h1v17.3h-1zM676.0,72.9h1v17.3h-1zM677.0,72.9h1v17.3h-1z" fill="#efd9d8"/>
<path d="M532.0,91.2h1v17.3h-1zM535.0,91.2h1v17.3h-1zM543.0,91.2h1v17.3h-1zM549.0,91.2h1v17.3h-1zM550.0,91.2h1v17.3h-1zM553.0,91.2h1v17.3h-1zM555.0,91.2h1v17.3h-1zM559.0,91.2h1v17.3h-1zM560.0,91.2h1v17.3h-1zM561.0,91.2h1v17.3h-1zM565.0,91.2h1v17.3h-1zM567.0,91.2h1v17.3h-1zM568.0,91.2h1v17.3h-1zM569.0,91.2h1v17.3h-1zM570.0,91.2h1v17.3h-1zM572.0,91.2h1v17.3h-1zM576.0,91.2h1v17.3h-1zM579.0,91.2h1v17.3h-1zM584.0,91.2h1v17.3h-1zM587.0,91.2h1v17.3h-1zM588.0,91.2h1v17.3h-1zM590.0,91.2h1v17.3h-1zM591.0,91.2h1v17.3h-1zM593.0,91.2h1v17.3h-1zM596.0,91.2h1v17.3h-1zM597.0,91.2h1v17.3h-1zM599.0,91.2h1v17.3h-1zM601.0,91.2h1v17.3h-1zM602.0,91.2h1v17.3h-1zM603.0,91.2h1v17.3h-1zM606.0,91.2h1v17.3h-1zM615.0,91.2h1v17.3h-1zM616.0,91.2h1v17.3h-1zM617.0,91.2h1v17.3h-1zM622.0,91.2h1v17.3h-1zM629.0,91.2h1v17.3h-1zM633.0,91.2h1v17.3h-1zM636.0,91.2h1v17.3h-1zM637.0,91.2h1v17.3h-1zM638.0,91.2h1v17.3h-1zM641.0,91.2h1v17.3h-1zM647.0,91.2h1v17.3h-1zM648.0,91.2h1v17.3h-1zM650.0,91.2h1v17.3h-1zM653.0,91.2h1v17.3h-1zM657.0,91.2h1v17.3h-1zM659.0,91.2h1v17.3h-1zM660.0,91.2h1v17.3h-1zM661.0,91.2h1v17.3h-1zM665.0,91.2h1v17.3h-1zM667.0,91.2h1v17.3h-1zM668.0,91.2h1v17.3h-1zM670.0,91.2h1v17.3h-1zM671.0,91.2h1v17.3h-1zM674.0,91.2h1v17.3h-1zM680.0,91.2h1v17.3h-1zM681.0,91.2h1v17.3h-1z" fill="#fdfbfb"/>
<path d="M527.0,91.2h1v17.3h-1zM528.0,91.2h1v17.3h-1zM529.0,91.2h1v17.3h-1zM534.0,91.2h1v17.3h-1zM536.0,91.2h1v17.3h-1zM537.0,91.2h1v17.3h-1zM539.0,91.2h1v17.3h-1zM541.0,91.2h1v17.3h-1zM544.0,91.2h1v17.3h-1zM545.0,91.2h1v17.3h-1zM546.0,91.2h1v17.3h-1zM551.0,91.2h1v17.3h-1zM552.0,91.2h1v17.3h-1zM556.0,91.2h1v17.3h-1zM558.0,91.2h1v17.3h-1zM562.0,91.2h1v17.3h-1zM563.0,91.2h1v17.3h-1zM575.0,91.2h1v17.3h-1zM585.0,91.2h1v17.3h-1zM592.0,91.2h1v17.3h-1zM600.0,91.2h1v17.3h-1zM608.0,91.2h1v17.3h-1zM609.0,91.2h1v17.3h-1zM610.0,91.2h1v17.3h-1zM611.0,91.2h1v17.3h-1zM614.0,91.2h1v17.3h-1zM618.0,91.2h1v17.3h-1zM621.0,91.2h1v17.3h-1zM628.0,91.2h1v17.3h-1zM630.0,91.2h1v17.3h-1zM634.0,91.2h1v17.3h-1zM640.0,91.2h1v17.3h-1zM642.0,91.2h1v17.3h-1zM643.0,91.2h1v17.3h-1zM644.0,91.2h1v17.3h-1zM645.0,91.2h1v17.3h-1zM646.0,91.2h1v17.3h-1zM649.0,91.2h1v17.3h-1zM656.0,91.2h1v17.3h-1zM658.0,91.2h1v17.3h-1zM662.0,91.2h1v17.3h-1zM663.0,91.2h1v17.3h-1zM664.0,91.2h1v17.3h-1zM666.0,91.2h1v17.3h-1zM672.0,91.2h1v17.3h-1zM679.0,91.2h1v17.3h-1z" fill="#fcf7f6"/>
<path d="M557.0,91.2h1v17.3h-1zM632.0,91.2h1v17.3h-1z" fill="#faf2f2"/>
<path d="M566.0,91.2h1v17.3h-1zM626.0,91.2h1v17.3h-1zM677.0,91.2h1v17.3h-1zM678.0,91.2h1v17.3h-1z" fill="#f8eeee"/>
<path d="M530.0,91.2h1v17.3h-1zM533.0,91.2h1v17.3h-1zM542.0,91.2h1v17.3h-1zM564.0,91.2h1v17.3h-1zM577.0,91.2h1v17.3h-1zM631.0,91.2h1v17.3h-1z" fill="#f6eae9"/>
<path d="M571.0,91.2h1v17.3h-1zM586.0,91.2h1v17.3h-1zM612.0,91.2h1v17.3h-1zM652.0,91.2h1v17.3h-1z" fill="#f4e6e5"/>
<path d="M540.0,91.2h1v17.3h-1zM554.0,91.2h1v17.3h-1zM583.0,91.2h1v17.3h-1zM589.0,91.2h1v17.3h-1zM604.0,91.2h1v17.3h-1zM605.0,91.2h1v17.3h-1zM613.0,91.2h1v17.3h-1zM620.0,91.2h1v17.3h-1zM623.0,91.2h1v17.3h-1zM624.0,91.2h1v17.3h-1zM627.0,91.2h1v17.3h-1zM635.0,91.2h1v17.3h-1zM639.0,91.2h1v17.3h-1zM651.0,91.2h1v17.3h-1zM675.0,91.2h1v17.3h-1z" fill="#f3e2e0"/>
<path d="M547.0,91.2h1v17.3h-1zM548.0,91.2h1v17.3h-1zM573.0,91.2h1v17.3h-1zM574.0,91.2h1v17.3h-1zM580.0,91.2h1v17.3h-1zM581.0,91.2h1v17.3h-1zM598.0,91.2h1v17.3h-1z" fill="#f1dedc"/>
<path d="M578.0,91.2h1v17.3h-1zM582.0,91.2h1v17.3h-1zM594.0,91.2h1v17.3h-1zM595.0,91.2h1v17.3h-1zM619.0,91.2h1v17.3h-1zM625.0,91.2h1v17.3h-1zM669.0,91.2h1v17.3h-1zM673.0,91.2h1v17.3h-1zM676.0,91.2h1v17.3h-1z" fill="#efd9d8"/>
<path d="M531.0,91.2h1v17.3h-1zM654.0,91.2h1v17.3h-1z" fill="#eed5d3"/>
<path d="M530.0,109.5h1v17.3h-1zM532.0,109.5h1v17.3h-1zM556.0,109.5h1v17.3h-1zM560.0,109.5h1v17.3h-1zM567.0,109.5h1v17.3h-1zM585.0,109.5h1v17.3h-1zM593.0,109.5h1v17.3h-1zM610.0,109.5h1v17.3h-1zM616.0,109.5h1v17.3h-1zM627.0,109.5h1v17.3h-1zM642.0,109.5h1v17.3h-1zM647.0,109.5h1v17.3h-1zM652.0,109.5h1v17.3h-1zM666.0,109.5h1v17.3h-1zM677.0,109.5h1v17.3h-1zM681.0,109.5h1v17.3h-1z" fill="#fdfbfb"/>
<path d="M548.0,109.5h1v17.3h-1zM553.0,109.5h1v17.3h-1zM555.0,109.5h1v17.3h-1zM558.0,109.5h1v17.3h-1zM564.0,109.5h1v17.3h-1zM566.0,109.5h1v17.3h-1zM575.0,109.5h1v17.3h-1zM578.0,109.5h1v17.3h-1zM581.0,109.5h1v17.3h-1zM586.0,109.5h1v17.3h-1zM588.0,109.5h1v17.3h-1zM592.0,109.5h1v17.3h-1zM600.0,109.5h1v17.3h-1zM606.0,109.5h1v17.3h-1zM613.0,109.5h1v17.3h-1zM622.0,109.5h1v17.3h-1zM624.0,109.5h1v17.3h-1zM625.0,109.5h1v17.3h-1zM633.0,109.5h1v17.3h-1zM636.0,109.5h1v17.3h-1zM651.0,109.5h1v17.3h-1zM657.0,109.5h1v17.3h-1zM661.0,109.5h1v17.3h-1zM672.0,109.5h1v17.3h-1z" fill="#fcf7f6"/>
<path d="M531.0,109.5h1v17.3h-1zM535.0,109.5h1v17.3h-1zM537.0,109.5h1v17.3h-1zM551.0,109.5h1v17.3h-1zM554.0,109.5h1v17.3h-1zM573.0,109.5h1v17.3h-1zM577.0,109.5h1v17.3h-1zM584.0,109.5h1v17.3h-1zM587.0,109.5h1v17.3h-1zM589.0,109.5h1v17.3h-1zM594.0,109.5h1v17.3h-1zM595.0,109.5h1v17.3h-1zM612.0,109.5h1v17.3h-1zM614.0,109.5h1v17.3h-1zM619.0,109.5h1v17.3h-1zM621.0,109.5h1v17.3h-1zM628.0,109.5h1v17.3h-1zM632.0,109.5h1v17.3h-1zM634.0,109.5h1v17.3h-1zM641.0,109.5h1v17.3h-1zM645.0,109.5h1v17.3h-1zM658.0,109.5h1v17.3h-1zM667.0,109.5h1v17.3h-1z" fill="#faf2f2"/>
<path d="M538.0,109.5h1v17.3h-1zM541.0,109.5h1v17.3h-1zM542.0,109.5h1v17.3h-1zM543.0,109.5h1v17.3h-1zM544.0,109.5h1v17.3h-1zM545.0,109.5h1v17.3h-1zM547.0,109.5h1v17.3h-1zM557.0,109.5h1v17.3h-1zM562.0,109.5h1v17.3h-1zM568.0,109.5h1v17.3h-1zM569.0,109.5h1v17.3h-1zM570.0,109.5h1v17.3h-1zM572.0,109.5h1v17.3h-1zM580.0,109.5h1v17.3h-1zM582.0,109.5h1v17.3h-1zM602.0,109.5h1v17.3h-1zM603.0,109.5h1v17.3h-1zM605.0,109.5h1v17.3h-1zM608.0,109.5h1v17.3h-1zM615.0,109.5h1v17.3h-1zM635.0,109.5h1v17.3h-1zM639.0,109.5h1v17.3h-1zM656.0,109.5h1v17.3h-1zM664.0,109.5h1v17.3h-1zM665.0,109.5h1v17.3h-1zM668.0,109.5h1v17.3h-1zM670.0,109.5h1v17.3h-1zM671.0,109.5h1v17.3h-1zM673.0,109.5h1v17.3h-1zM674.0,109.5h1v17.3h-1zM675.0,109.5h1v17.3h-1zM680.0,109.5h1v17.3h-1z" fill="#f8eeee"/>
<path d="M529.0,109.5h1v17.3h-1zM534.0,109.5h1v17.3h-1zM546.0,109.5h1v17.3h-1zM549.0,109.5h1v17.3h-1zM550.0,109.5h1v17.3h-1zM552.0,109.5h1v17.3h-1zM563.0,109.5h1v17.3h-1zM571.0,109.5h1v17.3h-1zM574.0,109.5h1v17.3h-1zM576.0,109.5h1v17.3h-1zM579.0,109.5h1v17.3h-1zM583.0,109.5h1v17.3h-1zM590.0,109.5h1v17.3h-1zM591.0,109.5h1v17.3h-1zM599.0,109.5h1v17.3h-1zM601.0,109.5h1v17.3h-1zM611.0,109.5h1v17.3h-1zM623.0,109.5h1v17.3h-1zM626.0,109.5h1v17.3h-1zM629.0,109.5h1v17.3h-1zM630.0,109.5h1v17.3h-1zM631.0,109.5h1v17.3h-1zM637.0,109.5h1v17.3h-1zM640.0,109.5h1v17.3h-1zM644.0,109.5h1v17.3h-1zM649.0,109.5h1v17.3h-1zM650.0,109.5h1v17.3h-1zM660.0,109.5h1v17.3h-1zM669.0,109.5h1v17.3h-1z" fill="#f6eae9"/>
<path d="M536.0,109.5h1v17.3h-1zM598.0,109.5h1v17.3h-1zM609.0,109.5h1v17.3h-1zM617.0,109.5h1v17.3h-1zM618.0,109.5h1v17.3h-1zM620.0,109.5h1v17.3h-1zM643.0,109.5h1v17.3h-1zM655.0,109.5h1v17.3h-1zM659.0,109.5h1v17.3h-1zM676.0,109.5h1v17.3h-1z" fill="#f4e6e5"/>
<path d="M596.0,109.5h1v17.3h-1zM597.0,109.5h1v17.3h-1zM604.0,109.5h1v17.3h-1zM607.0,109.5h1v17.3h-1zM663.0,109.5h1v17.3h-1z" fill="#f3e2e0"/>
<path d="M528.0,109.5h1v17.3h-1zM539.0,109.5h1v17.3h-1zM540.0,109.5h1v17.3h-1zM654.0,109.5h1v17.3h-1zM662.0,109.5h1v17.3h-1z" fill="#f1dedc"/>
<path d="M527.0,109.5h1v17.3h-1zM559.0,109.5h1v17.3h-1zM565.0,109.5h1v17.3h-1zM638.0,109.5h1v17.3h-1zM646.0,109.5h1v17.3h-1zM678.0,109.5h1v17.3h-1zM679.0,109.5h1v17.3h-1z" fill="#efd9d8"/>
<path d="M533.0,109.5h1v17.3h-1zM561.0,109.5h1v17.3h-1zM648.0,109.5h1v17.3h-1zM653.0,109.5h1v17.3h-1z" fill="#eed5d3"/>
<path d="M539.0,127.8h1v17.3h-1zM552.0,127.8h1v17.3h-1zM555.0,127.8h1v17.3h-1zM559.0,127.8h1v17.3h-1zM564.0,127.8h1v17.3h-1zM578.0,127.8h1v17.3h-1zM580.0,127.8h1v17.3h-1zM584.0,127.8h1v17.3h-1zM588.0,127.8h1v17.3h-1zM593.0,127.8h1v17.3h-1zM594.0,127.8h1v17.3h-1zM596.0,127.8h1v17.3h-1zM604.0,127.8h1v17.3h-1zM606.0,127.8h1v17.3h-1zM608.0,127.8h1v17.3h-1zM610.0,127.8h1v17.3h-1zM613.0,127.8h1v17.3h-1zM616.0,127.8h1v17.3h-1zM617.0,127.8h1v17.3h-1zM641.0,127.8h1v17.3h-1zM647.0,127.8h1v17.3h-1zM653.0,127.8h1v17.3h-1zM664.0,127.8h1v17.3h-1zM670.0,127.8h1v17.3h-1zM671.0,127.8h1v17.3h-1zM672.0,127.8h1v17.3h-1z" fill="#fdfbfb"/>
<path d="M528.0,127.8h1v17.3h-1zM532.0,127.8h1v17.3h-1zM547.0,127.8h1v17.3h-1zM556.0,127.8h1v17.3h-1zM575.0,127.8h1v17.3h-1zM577.0,127.8h1v17.3h-1zM586.0,127.8h1v17.3h-1zM589.0,127.8h1v17.3h-1zM591.0,127.8h1v17.3h-1zM597.0,127.8h1v17.3h-1zM600.0,127.8h1v17.3h-1zM611.0,127.8h1v17.3h-1zM612.0,127.8h1v17.3h-1zM614.0,127.8h1v17.3h-1zM615.0,127.8h1v17.3h-1zM618.0,127.8h1v17.3h-1zM619.0,127.8h1v17.3h-1zM621.0,127.8h1v17.3h-1zM627.0,127.8h1v17.3h-1zM628.0,127.8h1v17.3h-1zM630.0,127.8h1v17.3h-1zM632.0,127.8h1v17.3h-1zM636.0,127.8h1v17.3h-1zM645.0,127.8h1v17.3h-1zM654.0,127.8h1v17.3h-1zM655.0,127.8h1v17.3h-1zM658.0,127.8h1v17.3h-1zM662.0,127.8h1v17.3h-1zM663.0,127.8h1v17.3h-1zM665.0,127.8h1v17.3h-1zM666.0,127.8h1v17.3h-1zM668.0,127.8h1v17.3h-1zM669.0,127.8h1v17.3h-1zM680.0,127.8h1v17.3h-1z" fill="#fcf7f6"/>
<path d="M527.0,127.8h1v17.3h-1zM529.0,127.8h1v17.3h-1zM537.0,127.8h1v17.3h-1zM538.0,127.8h1v17.3h-1zM541.0,127.8h1v17.3h-1zM542.0,127.8h1v17.3h-1zM543.0,127.8h1v17.3h-1zM544.0,127.8h1v17.3h-1zM545.0,127.8h1v17.3h-1zM546.0,127.8h1v17.3h-1zM549.0,127.8h1v17.3h-1zM551.0,127.8h1v17.3h-1zM553.0,127.8h1v17.3h-1zM566.0,127.8h1v17.3h-1zM568.0,127.8h1v17.3h-1zM574.0,127.8h1v17.3h-1zM576.0,127.8h1v17.3h-1zM579.0,127.8h1v17.3h-1zM582.0,127.8h1v17.3h-1zM583.0,127.8h1v17.3h-1zM587.0,127.8h1v17.3h-1zM598.0,127.8h1v17.3h-1zM605.0,127.8h1v17.3h-1zM607.0,127.8h1v17.3h-1zM609.0,127.8h1v17.3h-1zM635.0,127.8h1v17.3h-1zM643.0,127.8h1v17.3h-1zM644.0,127.8h1v17.3h-1zM649.0,127.8h1v17.3h-1zM661.0,127.8h1v17.3h-1zM667.0,127.8h1v17.3h-1zM673.0,127.8h1v17.3h-1zM677.0,127.8h1v17.3h-1z" fill="#faf2f2"/>
<path d="M530.0,127.8h1v17.3h-1zM531.0,127.8h1v17.3h-1zM560.0,127.8h1v17.3h-1zM561.0,127.8h1v17.3h-1zM569.0,127.8h1v17.3h-1zM570.0,127.8h1v17.3h-1zM573.0,127.8h1v17.3h-1zM585.0,127.8h1v17.3h-1zM620.0,127.8h1v17.3h-1zM624.0,127.8h1v17.3h-1zM631.0,127.8h1v17.3h-1zM633.0,127.8h1v17.3h-1zM638.0,127.8h1v17.3h-1zM648.0,127.8h1v17.3h-1zM652.0,127.8h1v17.3h-1zM659.0,127.8h1v17.3h-1zM660.0,127.8h1v17.3h-1zM678.0,127.8h1v17.3h-1zM681.0,127.8h1v17.3h-1z" fill="#f8eeee"/>
<path d="M557.0,127.8h1v17.3h-1zM558.0,127.8h1v17.3h-1zM565.0,127.8h1v17.3h-1zM590.0,127.8h1v17.3h-1zM603.0,127.8h1v17.3h-1zM622.0,127.8h1v17.3h-1zM623.0,127.8h1v17.3h-1zM629.0,127.8h1v17.3h-1zM640.0,127.8h1v17.3h-1zM642.0,127.8h1v17.3h-1z" fill="#f6eae9"/>
<path d="M550.0,127.8h1v17.3h-1zM554.0,127.8h1v17.3h-1zM595.0,127.8h1v17.3h-1zM626.0,127.8h1v17.3h-1zM656.0,127.8h1v17.3h-1zM657.0,127.8h1v17.3h-1zM679.0,127.8h1v17.3h-1z" fill="#f4e6e5"/>
<path d="M536.0,127.8h1v17.3h-1zM540.0,127.8h1v17.3h-1zM548.0,127.8h1v17.3h-1zM567.0,127.8h1v17.3h-1zM581.0,127.8h1v17.3h-1zM592.0,127.8h1v17.3h-1zM639.0,127.8h1v17.3h-1zM675.0,127.8h1v17.3h-1z" fill="#f3e2e0"/>
<path d="M572.0,127.8h1v17.3h-1zM599.0,127.8h1v17.3h-1zM634.0,127.8h1v17.3h-1zM651.0,127.8h1v17.3h-1zM674.0,127.8h1v17.3h-1z" fill="#f1dedc"/>
<path d="M533.0,127.8h1v17.3h-1zM534.0,127.8h1v17.3h-1zM535.0,127.8h1v17.3h-1zM562.0,127.8h1v17.3h-1zM563.0,127.8h1v17.3h-1zM571.0,127.8h1v17.3h-1zM601.0,127.8h1v17.3h-1zM602.0,127.8h1v17.3h-1zM625.0,127.8h1v17.3h-1zM637.0,127.8h1v17.3h-1zM646.0,127.8h1v17.3h-1zM650.0,127.8h1v17.3h-1zM676.0,127.8h1v17.3h-1z" fill="#efd9d8"/>
<path d="M529.0,146.0h1v17.3h-1zM530.0,146.0h1v17.3h-1zM532.0,146.0h1v17.3h-1zM538.0,146.0h1v17.3h-1zM541.0,146.0h1v17.3h-1zM542.0,146.0h1v17.3h-1zM543.0,146.0h1v17.3h-1zM544.0,146.0h1v17.3h-1zM546.0,146.0h1v17.3h-1zM549.0,146.0h1v17.3h-1zM552.0,146.0h1v17.3h-1zM554.0,146.0h1v17.3h-1zM560.0,146.0h1v17.3h-1zM561.0,146.0h1v17.3h-1zM568.0,146.0h1v17.3h-1zM570.0,146.0h1v17.3h-1zM571.0,146.0h1v17.3h-1zM572.0,146.0h1v17.3h-1zM573.0,146.0h1v17.3h-1zM576.0,146.0h1v17.3h-1zM577.0,146.0h1v17.3h-1zM582.0,146.0h1v17.3h-1zM584.0,146.0h1v17.3h-1zM587.0,146.0h1v17.3h-1zM589.0,146.0h1v17.3h-1zM594.0,146.0h1v17.3h-1zM596.0,146.0h1v17.3h-1zM597.0,146.0h1v17.3h-1zM600.0,146.0h1v17.3h-1zM606.0,146.0h1v17.3h-1zM615.0,146.0h1v17.3h-1zM619.0,146.0h1v17.3h-1zM629.0,146.0h1v17.3h-1zM631.0,146.0h1v17.3h-1zM633.0,146.0h1v17.3h-1zM637.0,146.0h1v17.3h-1zM640.0,146.0h1v17.3h-1zM642.0,146.0h1v17.3h-1zM643.0,146.0h1v17.3h-1zM645.0,146.0h1v17.3h-1zM647.0,146.0h1v17.3h-1zM648.0,146.0h1v17.3h-1zM652.0,146.0h1v17.3h-1zM653.0,146.0h1v17.3h-1zM654.0,146.0h1v17.3h-1zM655.0,146.0h1v17.3h-1zM665.0,146.0h1v17.3h-1zM666.0,146.0h1v17.3h-1zM667.0,146.0h1v17.3h-1zM671.0,146.0h1v17.3h-1zM674.0,146.0h1v17.3h-1z" fill="#fdfbfb"/>
<path d="M531.0,146.0h1v17.3h-1zM534.0,146.0h1v17.3h-1zM535.0,146.0h1v17.3h-1zM536.0,146.0h1v17.3h-1zM537.0,146.0h1v17.3h-1zM550.0,146.0h1v17.3h-1zM553.0,146.0h1v17.3h-1zM556.0,146.0h1v17.3h-1zM557.0,146.0h1v17.3h-1zM559.0,146.0h1v17.3h-1zM565.0,146.0h1v17.3h-1zM567.0,146.0h1v17.3h-1zM569.0,146.0h1v17.3h-1zM575.0,146.0h1v17.3h-1zM580.0,146.0h1v17.3h-1zM588.0,146.0h1v17.3h-1zM590.0,146.0h1v17.3h-1zM593.0,146.0h1v17.3h-1zM595.0,146.0h1v17.3h-1zM598.0,146.0h1v17.3h-1zM601.0,146.0h1v17.3h-1zM602.0,146.0h1v17.3h-1zM603.0,146.0h1v17.3h-1zM604.0,146.0h1v17.3h-1zM609.0,146.0h1v17.3h-1zM614.0,146.0h1v17.3h-1zM616.0,146.0h1v17.3h-1zM618.0,146.0h1v17.3h-1zM620.0,146.0h1v17.3h-1zM625.0,146.0h1v17.3h-1zM630.0,146.0h1v17.3h-1zM632.0,146.0h1v17.3h-1zM634.0,146.0h1v17.3h-1zM636.0,146.0h1v17.3h-1zM638.0,146.0h1v17.3h-1zM644.0,146.0h1v17.3h-1zM649.0,146.0h1v17.3h-1zM650.0,146.0h1v17.3h-1zM651.0,146.0h1v17.3h-1zM656.0,146.0h1v17.3h-1zM658.0,146.0h1v17.3h-1zM659.0,146.0h1v17.3h-1zM661.0,146.0h1v17.3h-1zM662.0,146.0h1v17.3h-1zM669.0,146.0h1v17.3h-1zM672.0,146.0h1v17.3h-1zM675.0,146.0h1v17.3h-1zM676.0,146.0h1v17.3h-1zM677.0,146.0h1v17.3h-1zM681.0,146.0h1v17.3h-1z" fill="#fcf7f6"/>
<path d="M533.0,146.0h1v17.3h-1zM540.0,146.0h1v17.3h-1zM551.0,146.0h1v17.3h-1zM555.0,146.0h1v17.3h-1zM562.0,146.0h1v17.3h-1zM563.0,146.0h1v17.3h-1zM564.0,146.0h1v17.3h-1zM566.0,146.0h1v17.3h-1zM574.0,146.0h1v17.3h-1zM585.0,146.0h1v17.3h-1zM591.0,146.0h1v17.3h-1zM592.0,146.0h1v17.3h-1zM599.0,146.0h1v17.3h-1zM611.0,146.0h1v17.3h-1zM612.0,146.0h1v17.3h-1zM617.0,146.0h1v17.3h-1zM623.0,146.0h1v17.3h-1zM626.0,146.0h1v17.3h-1zM628.0,146.0h1v17.3h-1zM635.0,146.0h1v17.3h-1zM639.0,146.0h1v17.3h-1zM657.0,146.0h1v17.3h-1zM668.0,146.0h1v17.3h-1zM670.0,146.0h1v17.3h-1zM673.0,146.0h1v17.3h-1zM678.0,146.0h1v17.3h-1zM679.0,146.0h1v17.3h-1zM680.0,146.0h1v17.3h-1z" fill="#faf2f2"/>
<path d="M578.0,146.0h1v17.3h-1zM581.0,146.0h1v17.3h-1zM627.0,146.0h1v17.3h-1zM641.0,146.0h1v17.3h-1zM663.0,146.0h1v17.3h-1zM664.0,146.0h1v17.3h-1z" fill="#f8eeee"/>
<path d="M545.0,146.0h1v17.3h-1zM586.0,146.0h1v17.3h-1zM608.0,146.0h1v17.3h-1zM621.0,146.0h1v17.3h-1zM622.0,146.0h1v17.3h-1zM660.0,146.0h1v17.3h-1z" fill="#f6eae9"/>
<path d="M539.0,146.0h1v17.3h-1zM548.0,146.0h1v17.3h-1zM583.0,146.0h1v17.3h-1zM605.0,146.0h1v17.3h-1z" fill="#f4e6e5"/>
<path d="M528.0,146.0h1v17.3h-1zM547.0,146.0h1v17.3h-1zM579.0,146.0h1v17.3h-1zM646.0,146.0h1v17.3h-1z" fill="#f3e2e0"/>
<path d="M527.0,146.0h1v17.3h-1zM558.0,146.0h1v17.3h-1zM607.0,146.0h1v17.3h-1zM613.0,146.0h1v17.3h-1zM624.0,146.0h1v17.3h-1z" fill="#f1dedc"/>
<path d="M610.0,146.0h1v17.3h-1z" fill="#efd9d8"/>
<path d="M539.0,164.3h1v17.3h-1zM553.0,164.3h1v17.3h-1zM561.0,164.3h1v17.3h-1zM567.0,164.3h1v17.3h-1zM569.0,164.3h1v17.3h-1zM580.0,164.3h1v17.3h-1zM585.0,164.3h1v17.3h-1zM592.0,164.3h1v17.3h-1zM607.0,164.3h1v17.3h-1zM620.0,164.3h1v17.3h-1zM640.0,164.3h1v17.3h-1zM646.0,164.3h1v17.3h-1zM649.0,164.3h1v17.3h-1zM657.0,164.3h1v17.3h-1zM670.0,164.3h1v17.3h-1z" fill="#fdfbfb"/>
<path d="M600.0,164.3h1v17.3h-1zM601.0,164.3h1v17.3h-1z" fill="#fcf7f6"/>
<path d="M629.0,164.3h1v17.3h-1z" fill="#f8eeee"/>
<path d="M557.0,164.3h1v17.3h-1zM597.0,164.3h1v17.3h-1zM681.0,164.3h1v17.3h-1z" fill="#f6eae9"/>
<path d="M662.0,164.3h1v17.3h-1zM663.0,164.3h1v17.3h-1zM666.0,164.3h1v17.3h-1zM678.0,164.3h1v17.3h-1zM679.0,164.3h1v17.3h-1z" fill="#f4e6e5"/>
<path d="M651.0,164.3h1v17.3h-1z" fill="#f3e2e0"/>
<path d="M675.0,164.3h1v17.3h-1zM676.0,164.3h1v17.3h-1z" fill="#f1dedc"/>
<path d="M660.0,164.3h1v17.3h-1z" fill="#efd9d8"/>
<path d="M661.0,164.3h1v17.3h-1zM672.0,164.3h1v17.3h-1z" fill="#e8c9c6"/>
<path d="M652.0,164.3h1v17.3h-1zM653.0,164.3h1v17.3h-1z" fill="#e6c5c2"/>
<path d="M655.0,164.3h1v17.3h-1zM665.0,164.3h1v17.3h-1z" fill="#e1b8b5"/>
<path d="M527.0,182.6h1v17.3h-1zM529.0,182.6h1v17.3h-1zM530.0,182.6h1v17.3h-1zM536.0,182.6h1v17.3h-1zM546.0,182.6h1v17.3h-1zM552.0,182.6h1v17.3h-1zM561.0,182.6h1v17.3h-1zM562.0,182.6h1v17.3h-1zM565.0,182.6h1v17.3h-1zM566.0,182.6h1v17.3h-1zM571.0,182.6h1v17.3h-1zM572.0,182.6h1v17.3h-1zM575.0,182.6h1v17.3h-1zM576.0,182.6h1v17.3h-1zM584.0,182.6h1v17.3h-1zM589.0,182.6h1v17.3h-1zM600.0,182.6h1v17.3h-1zM608.0,182.6h1v17.3h-1zM614.0,182.6h1v17.3h-1zM616.0,182.6h1v17.3h-1zM618.0,182.6h1v17.3h-1zM628.0,182.6h1v17.3h-1zM630.0,182.6h1v17.3h-1zM631.0,182.6h1v17.3h-1zM632.0,182.6h1v17.3h-1zM637.0,182.6h1v17.3h-1zM638.0,182.6h1v17.3h-1zM640.0,182.6h1v17.3h-1zM654.0,182.6h1v17.3h-1zM656.0,182.6h1v17.3h-1zM666.0,182.6h1v17.3h-1zM667.0,182.6h1v17.3h-1zM674.0,182.6h1v17.3h-1zM675.0,182.6h1v17.3h-1zM677.0,182.6h1v17.3h-1z" fill="#fdfbfb"/>
<path d="M528.0,182.6h1v17.3h-1zM535.0,182.6h1v17.3h-1zM547.0,182.6h1v17.3h-1zM553.0,182.6h1v17.3h-1zM554.0,182.6h1v17.3h-1zM556.0,182.6h1v17.3h-1zM560.0,182.6h1v17.3h-1zM563.0,182.6h1v17.3h-1zM570.0,182.6h1v17.3h-1zM582.0,182.6h1v17.3h-1zM583.0,182.6h1v17.3h-1zM585.0,182.6h1v17.3h-1zM588.0,182.6h1v17.3h-1zM599.0,182.6h1v17.3h-1zM606.0,182.6h1v17.3h-1zM620.0,182.6h1v17.3h-1zM621.0,182.6h1v17.3h-1zM623.0,182.6h1v17.3h-1zM624.0,182.6h1v17.3h-1zM633.0,182.6h1v17.3h-1zM635.0,182.6h1v17.3h-1zM636.0,182.6h1v17.3h-1zM641.0,182.6h1v17.3h-1zM643.0,182.6h1v17.3h-1zM647.0,182.6h1v17.3h-1zM649.0,182.6h1v17.3h-1zM651.0,182.6h1v17.3h-1zM653.0,182.6h1v17.3h-1zM657.0,182.6h1v17.3h-1zM659.0,182.6h1v17.3h-1zM664.0,182.6h1v17.3h-1zM671.0,182.6h1v17.3h-1zM672.0,182.6h1v17.3h-1zM679.0,182.6h1v17.3h-1z" fill="#fcf7f6"/>
<path d="M534.0,182.6h1v17.3h-1zM537.0,182.6h1v17.3h-1zM538.0,182.6h1v17.3h-1zM540.0,182.6h1v17.3h-1zM541.0,182.6h1v17.3h-1zM545.0,182.6h1v17.3h-1zM548.0,182.6h1v17.3h-1zM557.0,182.6h1v17.3h-1zM564.0,182.6h1v17.3h-1zM569.0,182.6h1v17.3h-1zM573.0,182.6h1v17.3h-1zM578.0,182.6h1v17.3h-1zM580.0,182.6h1v17.3h-1zM595.0,182.6h1v17.3h-1zM601.0,182.6h1v17.3h-1zM603.0,182.6h1v17.3h-1zM607.0,182.6h1v17.3h-1zM612.0,182.6h1v17.3h-1zM613.0,182.6h1v17.3h-1zM617.0,182.6h1v17.3h-1zM619.0,182.6h1v17.3h-1zM622.0,182.6h1v17.3h-1zM625.0,182.6h1v17.3h-1zM639.0,182.6h1v17.3h-1zM645.0,182.6h1v17.3h-1zM646.0,182.6h1v17.3h-1zM650.0,182.6h1v17.3h-1zM660.0,182.6h1v17.3h-1zM668.0,182.6h1v17.3h-1zM669.0,182.6h1v17.3h-1zM678.0,182.6h1v17.3h-1zM680.0,182.6h1v17.3h-1z" fill="#faf2f2"/>
<path d="M531.0,182.6h1v17.3h-1zM532.0,182.6h1v17.3h-1zM533.0,182.6h1v17.3h-1zM542.0,182.6h1v17.3h-1zM544.0,182.6h1v17.3h-1zM549.0,182.6h1v17.3h-1zM550.0,182.6h1v17.3h-1zM551.0,182.6h1v17.3h-1zM568.0,182.6h1v17.3h-1zM586.0,182.6h1v17.3h-1zM590.0,182.6h1v17.3h-1zM593.0,182.6h1v17.3h-1zM596.0,182.6h1v17.3h-1zM602.0,182.6h1v17.3h-1zM609.0,182.6h1v17.3h-1zM615.0,182.6h1v17.3h-1zM629.0,182.6h1v17.3h-1zM642.0,182.6h1v17.3h-1zM644.0,182.6h1v17.3h-1zM648.0,182.6h1v17.3h-1zM661.0,182.6h1v17.3h-1zM662.0,182.6h1v17.3h-1zM670.0,182.6h1v17.3h-1zM681.0,182.6h1v17.3h-1z" fill="#f8eeee"/>
<path d="M581.0,182.6h1v17.3h-1zM592.0,182.6h1v17.3h-1zM610.0,182.6h1v17.3h-1zM611.0,182.6h1v17.3h-1zM634.0,182.6h1v17.3h-1zM676.0,182.6h1v17.3h-1z" fill="#f6eae9"/>
<path d="M539.0,182.6h1v17.3h-1zM567.0,182.6h1v17.3h-1zM577.0,182.6h1v17.3h-1zM597.0,182.6h1v17.3h-1zM598.0,182.6h1v17.3h-1zM673.0,182.6h1v17.3h-1z" fill="#f4e6e5"/>
<path d="M555.0,182.6h1v17.3h-1zM591.0,182.6h1v17.3h-1zM604.0,182.6h1v17.3h-1zM652.0,182.6h1v17.3h-1z" fill="#f3e2e0"/>
<path d="M543.0,182.6h1v17.3h-1zM559.0,182.6h1v17.3h-1zM574.0,182.6h1v17.3h-1zM605.0,182.6h1v17.3h-1zM626.0,182.6h1v17.3h-1zM627.0,182.6h1v17.3h-1zM655.0,182.6h1v17.3h-1z" fill="#f1dedc"/>
<path d="M558.0,182.6h1v17.3h-1zM579.0,182.6h1v17.3h-1zM587.0,182.6h1v17.3h-1zM594.0,182.6h1v17.3h-1zM658.0,182.6h1v17.3h-1zM663.0,182.6h1v17.3h-1zM665.0,182.6h1v17.3h-1z" fill="#efd9d8"/>
<path d="M527.0,200.9h1v17.3h-1zM537.0,200.9h1v17.3h-1zM540.0,200.9h1v17.3h-1zM544.0,200.9h1v17.3h-1zM568.0,200.9h1v17.3h-1zM569.0,200.9h1v17.3h-1zM587.0,200.9h1v17.3h-1zM612.0,200.9h1v17.3h-1zM679.0,200.9h1v17.3h-1z" fill="#fdfbfb"/>
<path d="M607.0,200.9h1v17.3h-1zM608.0,200.9h1v17.3h-1zM616.0,200.9h1v17.3h-1zM622.0,200.9h1v17.3h-1zM627.0,200.9h1v17.3h-1z" fill="#faf2f2"/>
<path d="M571.0,200.9h1v17.3h-1zM572.0,200.9h1v17.3h-1zM626.0,200.9h1v17.3h-1zM656.0,200.9h1v17.3h-1z" fill="#f8eeee"/>
<path d="M565.0,200.9h1v17.3h-1z" fill="#f6eae9"/>
<path d="M633.0,200.9h1v17.3h-1zM634.0,200.9h1v17.3h-1zM659.0,200.9h1v17.3h-1zM671.0,200.9h1v17.3h-1zM673.0,200.9h1v17.3h-1z" fill="#f4e6e5"/>
<path d="M658.0,200.9h1v17.3h-1zM660.0,200.9h1v17.3h-1z" fill="#f3e2e0"/>
<path d="M662.0,200.9h1v17.3h-1z" fill="#f1dedc"/>
<path d="M681.0,200.9h1v17.3h-1z" fill="#efd9d8"/>
<path d="M642.0,200.9h1v17.3h-1z" fill="#eed5d3"/>
<path d="M630.0,200.9h1v17.3h-1zM632.0,200.9h1v17.3h-1zM640.0,200.9h1v17.3h-1zM641.0,200.9h1v17.3h-1zM674.0,200.9h1v17.3h-1zM675.0,200.9h1v17.3h-1z" fill="#ecd1cf"/>
<path d="M629.0,200.9h1v17.3h-1z" fill="#eacdca"/>
<path d="M533.0,219.2h1v17.3h-1zM545.0,219.2h1v17.3h-1zM552.0,219.2h1v17.3h-1zM564.0,219.2h1v17.3h-1zM567.0,219.2h1v17.3h-1zM573.0,219.2h1v17.3h-1zM579.0,219.2h1v17.3h-1zM589.0,219.2h1v17.3h-1zM598.0,219.2h1v17.3h-1zM604.0,219.2h1v17.3h-1zM607.0,219.2h1v17.3h-1zM622.0,219.2h1v17.3h-1zM649.0,219.2h1v17.3h-1zM655.0,219.2h1v17.3h-1z" fill="#fdfbfb"/>
<path d="M625.0,219.2h1v17.3h-1z" fill="#faf2f2"/>
<path d="M541.0,219.2h1v17.3h-1zM629.0,219.2h1v17.3h-1zM632.0,219.2h1v17.3h-1zM642.0,219.2h1v17.3h-1z" fill="#f6eae9"/>
<path d="M599.0,219.2h1v17.3h-1z" fill="#f4e6e5"/>
<path d="M665.0,219.2h1v17.3h-1zM668.0,219.2h1v17.3h-1zM672.0,219.2h1v17.3h-1zM680.0,219.2h1v17.3h-1z" fill="#f3e2e0"/>
<path d="M666.0,219.2h1v17.3h-1zM667.0,219.2h1v17.3h-1z" fill="#eed5d3"/>
<path d="M676.0,219.2h1v17.3h-1zM677.0,219.2h1v17.3h-1z" fill="#ecd1cf"/>
<path d="M662.0,219.2h1v17.3h-1zM679.0,219.2h1v17.3h-1z" fill="#eacdca"/>
<path d="M663.0,219.2h1v17.3h-1zM664.0,219.2h1v17.3h-1zM670.0,219.2h1v17.3h-1z" fill="#e1b8b5"/>
<path d="M673.0,219.2h1v17.3h-1z" fill="#e0b4b0"/>
<path d="M527.0,237.5h1v17.3h-1zM528.0,237.5h1v17.3h-1zM529.0,237.5h1v17.3h-1zM537.0,237.5h1v17.3h-1zM538.0,237.5h1v17.3h-1zM540.0,237.5h1v17.3h-1zM542.0,237.5h1v17.3h-1zM543.0,237.5h1v17.3h-1zM545.0,237.5h1v17.3h-1zM546.0,237.5h1v17.3h-1zM550.0,237.5h1v17.3h-1zM553.0,237.5h1v17.3h-1zM555.0,237.5h1v17.3h-1zM566.0,237.5h1v17.3h-1zM567.0,237.5h1v17.3h-1zM573.0,237.5h1v17.3h-1zM576.0,237.5h1v17.3h-1zM577.0,237.5h1v17.3h-1zM579.0,237.5h1v17.3h-1zM580.0,237.5h1v17.3h-1zM583.0,237.5h1v17.3h-1zM587.0,237.5h1v17.3h-1zM588.0,237.5h1v17.3h-1zM589.0,237.5h1v17.3h-1zM591.0,237.5h1v17.3h-1zM592.0,237.5h1v17.3h-1zM595.0,237.5h1v17.3h-1zM602.0,237.5h1v17.3h-1zM606.0,237.5h1v17.3h-1zM607.0,237.5h1v17.3h-1zM608.0,237.5h1v17.3h-1zM616.0,237.5h1v17.3h-1zM623.0,237.5h1v17.3h-1zM631.0,237.5h1v17.3h-1zM637.0,237.5h1v17.3h-1zM639.0,237.5h1v17.3h-1zM641.0,237.5h1v17.3h-1zM647.0,237.5h1v17.3h-1zM650.0,237.5h1v17.3h-1zM651.0,237.5h1v17.3h-1zM652.0,237.5h1v17.3h-1zM656.0,237.5h1v17.3h-1zM657.0,237.5h1v17.3h-1zM663.0,237.5h1v17.3h-1zM666.0,237.5h1v17.3h-1zM670.0,237.5h1v17.3h-1zM674.0,237.5h1v17.3h-1z" fill="#fdfbfb"/>
<path d="M533.0,237.5h1v17.3h-1zM548.0,237.5h1v17.3h-1zM556.0,237.5h1v17.3h-1zM559.0,237.5h1v17.3h-1zM560.0,237.5h1v17.3h-1zM561.0,237.5h1v17.3h-1zM562.0,237.5h1v17.3h-1zM564.0,237.5h1v17.3h-1zM565.0,237.5h1v17.3h-1zM569.0,237.5h1v17.3h-1zM571.0,237.5h1v17.3h-1zM581.0,237.5h1v17.3h-1zM584.0,237.5h1v17.3h-1zM585.0,237.5h1v17.3h-1zM596.0,237.5h1v17.3h-1zM598.0,237.5h1v17.3h-1zM610.0,237.5h1v17.3h-1zM611.0,237.5h1v17.3h-1zM615.0,237.5h1v17.3h-1zM617.0,237.5h1v17.3h-1zM618.0,237.5h1v17.3h-1zM620.0,237.5h1v17.3h-1zM621.0,237.5h1v17.3h-1zM622.0,237.5h1v17.3h-1zM627.0,237.5h1v17.3h-1zM628.0,237.5h1v17.3h-1zM630.0,237.5h1v17.3h-1zM633.0,237.5h1v17.3h-1zM634.0,237.5h1v17.3h-1zM636.0,237.5h1v17.3h-1zM645.0,237.5h1v17.3h-1zM646.0,237.5h1v17.3h-1zM653.0,237.5h1v17.3h-1zM661.0,237.5h1v17.3h-1zM665.0,237.5h1v17.3h-1zM680.0,237.5h1v17.3h-1zM681.0,237.5h1v17.3h-1z" fill="#fcf7f6"/>
<path d="M531.0,237.5h1v17.3h-1zM532.0,237.5h1v17.3h-1zM534.0,237.5h1v17.3h-1zM539.0,237.5h1v17.3h-1zM541.0,237.5h1v17.3h-1zM544.0,237.5h1v17.3h-1zM549.0,237.5h1v17.3h-1zM552.0,237.5h1v17.3h-1zM557.0,237.5h1v17.3h-1zM558.0,237.5h1v17.3h-1zM563.0,237.5h1v17.3h-1zM568.0,237.5h1v17.3h-1zM572.0,237.5h1v17.3h-1zM575.0,237.5h1v17.3h-1zM578.0,237.5h1v17.3h-1zM586.0,237.5h1v17.3h-1zM594.0,237.5h1v17.3h-1zM597.0,237.5h1v17.3h-1zM599.0,237.5h1v17.3h-1zM601.0,237.5h1v17.3h-1zM604.0,237.5h1v17.3h-1zM605.0,237.5h1v17.3h-1zM609.0,237.5h1v17.3h-1zM612.0,237.5h1v17.3h-1zM613.0,237.5h1v17.3h-1zM619.0,237.5h1v17.3h-1zM626.0,237.5h1v17.3h-1zM629.0,237.5h1v17.3h-1zM635.0,237.5h1v17.3h-1zM638.0,237.5h1v17.3h-1zM642.0,237.5h1v17.3h-1zM644.0,237.5h1v17.3h-1zM648.0,237.5h1v17.3h-1zM649.0,237.5h1v17.3h-1zM654.0,237.5h1v17.3h-1zM658.0,237.5h1v17.3h-1zM659.0,237.5h1v17.3h-1zM662.0,237.5h1v17.3h-1zM664.0,237.5h1v17.3h-1zM667.0,237.5h1v17.3h-1zM668.0,237.5h1v17.3h-1zM669.0,237.5h1v17.3h-1zM672.0,237.5h1v17.3h-1zM678.0,237.5h1v17.3h-1zM679.0,237.5h1v17.3h-1z" fill="#faf2f2"/>
<path d="M536.0,237.5h1v17.3h-1zM551.0,237.5h1v17.3h-1zM643.0,237.5h1v17.3h-1z" fill="#f8eeee"/>
<path d="M530.0,237.5h1v17.3h-1zM640.0,237.5h1v17.3h-1zM660.0,237.5h1v17.3h-1zM673.0,237.5h1v17.3h-1z" fill="#f6eae9"/>
<path d="M582.0,237.5h1v17.3h-1zM590.0,237.5h1v17.3h-1zM593.0,237.5h1v17.3h-1zM603.0,237.5h1v17.3h-1zM614.0,237.5h1v17.3h-1zM625.0,237.5h1v17.3h-1zM632.0,237.5h1v17.3h-1zM675.0,237.5h1v17.3h-1zM676.0,237.5h1v17.3h-1z" fill="#f4e6e5"/>
<path d="M547.0,237.5h1v17.3h-1zM600.0,237.5h1v17.3h-1zM624.0,237.5h1v17.3h-1zM655.0,237.5h1v17.3h-1zM671.0,237.5h1v17.3h-1zM677.0,237.5h1v17.3h-1z" fill="#f3e2e0"/>
<path d="M535.0,237.5h1v17.3h-1zM554.0,237.5h1v17.3h-1zM570.0,237.5h1v17.3h-1zM574.0,237.5h1v17.3h-1z" fill="#f1dedc"/>
<path d="M528.0,255.8h1v17.3h-1zM531.0,255.8h1v17.3h-1zM539.0,255.8h1v17.3h-1zM540.0,255.8h1v17.3h-1zM542.0,255.8h1v17.3h-1zM543.0,255.8h1v17.3h-1zM546.0,255.8h1v17.3h-1zM552.0,255.8h1v17.3h-1zM553.0,255.8h1v17.3h-1zM557.0,255.8h1v17.3h-1zM560.0,255.8h1v17.3h-1zM567.0,255.8h1v17.3h-1zM569.0,255.8h1v17.3h-1zM575.0,255.8h1v17.3h-1zM576.0,255.8h1v17.3h-1zM579.0,255.8h1v17.3h-1zM583.0,255.8h1v17.3h-1zM584.0,255.8h1v17.3h-1zM586.0,255.8h1v17.3h-1zM587.0,255.8h1v17.3h-1zM588.0,255.8h1v17.3h-1zM589.0,255.8h1v17.3h-1zM591.0,255.8h1v17.3h-1zM592.0,255.8h1v17.3h-1zM596.0,255.8h1v17.3h-1zM599.0,255.8h1v17.3h-1zM609.0,255.8h1v17.3h-1zM613.0,255.8h1v17.3h-1zM622.0,255.8h1v17.3h-1zM623.0,255.8h1v17.3h-1zM624.0,255.8h1v17.3h-1zM626.0,255.8h1v17.3h-1zM627.0,255.8h1v17.3h-1zM638.0,255.8h1v17.3h-1zM642.0,255.8h1v17.3h-1zM643.0,255.8h1v17.3h-1zM650.0,255.8h1v17.3h-1zM651.0,255.8h1v17.3h-1zM656.0,255.8h1v17.3h-1zM659.0,255.8h1v17.3h-1zM660.0,255.8h1v17.3h-1zM666.0,255.8h1v17.3h-1zM670.0,255.8h1v17.3h-1zM676.0,255.8h1v17.3h-1zM680.0,255.8h1v17.3h-1z" fill="#fdfbfb"/>
<path d="M533.0,255.8h1v17.3h-1zM534.0,255.8h1v17.3h-1zM561.0,255.8h1v17.3h-1z" fill="#fcf7f6"/>
<path d="M529.0,255.8h1v17.3h-1zM530.0,255.8h1v17.3h-1zM577.0,255.8h1v17.3h-1zM633.0,255.8h1v17.3h-1zM634.0,255.8h1v17.3h-1zM679.0,255.8h1v17.3h-1z" fill="#f8eeee"/>
<path d="M573.0,255.8h1v17.3h-1zM582.0,255.8h1v17.3h-1zM647.0,255.8h1v17.3h-1zM668.0,255.8h1v17.3h-1z" fill="#f6eae9"/>
<path d="M619.0,255.8h1v17.3h-1zM620.0,255.8h1v17.3h-1zM640.0,255.8h1v17.3h-1z" fill="#f4e6e5"/>
<path d="M677.0,255.8h1v17.3h-1z" fill="#f1dedc"/>
<path d="M654.0,255.8h1v17.3h-1zM655.0,255.8h1v17.3h-1zM675.0,255.8h1v17.3h-1zM681.0,255.8h1v17.3h-1z" fill="#efd9d8"/>
<path d="M614.0,255.8h1v17.3h-1zM631.0,255.8h1v17.3h-1zM632.0,255.8h1v17.3h-1zM662.0,255.8h1v17.3h-1z" fill="#eed5d3"/>
<path d="M664.0,255.8h1v17.3h-1z" fill="#ecd1cf"/>
<path d="M607.0,255.8h1v17.3h-1zM608.0,255.8h1v17.3h-1zM617.0,255.8h1v17.3h-1zM618.0,255.8h1v17.3h-1z" fill="#eacdca"/>
<path d="M528.0,274.1h1v17.3h-1zM529.0,274.1h1v17.3h-1zM530.0,274.1h1v17.3h-1zM531.0,274.1h1v17.3h-1zM535.0,274.1h1v17.3h-1zM536.0,274.1h1v17.3h-1zM537.0,274.1h1v17.3h-1zM540.0,274.1h1v17.3h-1zM542.0,274.1h1v17.3h-1zM543.0,274.1h1v17.3h-1zM546.0,274.1h1v17.3h-1zM549.0,274.1h1v17.3h-1zM554.0,274.1h1v17.3h-1zM555.0,274.1h1v17.3h-1zM556.0,274.1h1v17.3h-1zM558.0,274.1h1v17.3h-1zM560.0,274.1h1v17.3h-1zM563.0,274.1h1v17.3h-1zM566.0,274.1h1v17.3h-1zM567.0,274.1h1v17.3h-1zM569.0,274.1h1v17.3h-1zM570.0,274.1h1v17.3h-1zM571.0,274.1h1v17.3h-1zM574.0,274.1h1v17.3h-1zM576.0,274.1h1v17.3h-1zM577.0,274.1h1v17.3h-1zM581.0,274.1h1v17.3h-1zM584.0,274.1h1v17.3h-1zM586.0,274.1h1v17.3h-1zM588.0,274.1h1v17.3h-1zM589.0,274.1h1v17.3h-1zM595.0,274.1h1v17.3h-1zM596.0,274.1h1v17.3h-1zM597.0,274.1h1v17.3h-1zM599.0,274.1h1v17.3h-1zM602.0,274.1h1v17.3h-1zM611.0,274.1h1v17.3h-1zM614.0,274.1h1v17.3h-1zM620.0,274.1h1v17.3h-1zM630.0,274.1h1v17.3h-1zM633.0,274.1h1v17.3h-1zM637.0,274.1h1v17.3h-1zM639.0,274.1h1v17.3h-1zM642.0,274.1h1v17.3h-1zM647.0,274.1h1v17.3h-1zM648.0,274.1h1v17.3h-1zM649.0,274.1h1v17.3h-1zM651.0,274.1h1v17.3h-1zM652.0,274.1h1v17.3h-1zM654.0,274.1h1v17.3h-1zM659.0,274.1h1v17.3h-1zM660.0,274.1h1v17.3h-1zM661.0,274.1h1v17.3h-1zM662.0,274.1h1v17.3h-1zM664.0,274.1h1v17.3h-1zM666.0,274.1h1v17.3h-1zM667.0,274.1h1v17.3h-1zM668.0,274.1h1v17.3h-1zM669.0,274.1h1v17.3h-1zM676.0,274.1h1v17.3h-1zM681.0,274.1h1v17.3h-1z" fill="#fdfbfb"/>
<path d="M533.0,274.1h1v17.3h-1zM538.0,274.1h1v17.3h-1zM541.0,274.1h1v17.3h-1zM544.0,274.1h1v17.3h-1zM548.0,274.1h1v17.3h-1zM552.0,274.1h1v17.3h-1zM553.0,274.1h1v17.3h-1zM557.0,274.1h1v17.3h-1zM559.0,274.1h1v17.3h-1zM562.0,274.1h1v17.3h-1zM564.0,274.1h1v17.3h-1zM565.0,274.1h1v17.3h-1zM568.0,274.1h1v17.3h-1zM572.0,274.1h1v17.3h-1zM573.0,274.1h1v17.3h-1zM580.0,274.1h1v17.3h-1zM582.0,274.1h1v17.3h-1zM583.0,274.1h1v17.3h-1zM585.0,274.1h1v17.3h-1zM587.0,274.1h1v17.3h-1zM598.0,274.1h1v17.3h-1zM600.0,274.1h1v17.3h-1zM601.0,274.1h1v17.3h-1zM607.0,274.1h1v17.3h-1zM608.0,274.1h1v17.3h-1zM609.0,274.1h1v17.3h-1zM610.0,274.1h1v17.3h-1zM612.0,274.1h1v17.3h-1zM615.0,274.1h1v17.3h-1zM618.0,274.1h1v17.3h-1zM622.0,274.1h1v17.3h-1zM623.0,274.1h1v17.3h-1zM624.0,274.1h1v17.3h-1zM625.0,274.1h1v17.3h-1zM626.0,274.1h1v17.3h-1zM628.0,274.1h1v17.3h-1zM629.0,274.1h1v17.3h-1zM634.0,274.1h1v17.3h-1zM635.0,274.1h1v17.3h-1zM636.0,274.1h1v17.3h-1zM638.0,274.1h1v17.3h-1zM640.0,274.1h1v17.3h-1zM641.0,274.1h1v17.3h-1zM644.0,274.1h1v17.3h-1zM646.0,274.1h1v17.3h-1zM655.0,274.1h1v17.3h-1zM656.0,274.1h1v17.3h-1zM657.0,274.1h1v17.3h-1zM658.0,274.1h1v17.3h-1zM663.0,274.1h1v17.3h-1zM665.0,274.1h1v17.3h-1zM671.0,274.1h1v17.3h-1zM672.0,274.1h1v17.3h-1zM673.0,274.1h1v17.3h-1zM677.0,274.1h1v17.3h-1zM678.0,274.1h1v17.3h-1zM679.0,274.1h1v17.3h-1zM680.0,274.1h1v17.3h-1z" fill="#fcf7f6"/>
<path d="M539.0,274.1h1v17.3h-1zM591.0,274.1h1v17.3h-1zM592.0,274.1h1v17.3h-1zM593.0,274.1h1v17.3h-1zM603.0,274.1h1v17.3h-1zM604.0,274.1h1v17.3h-1zM606.0,274.1h1v17.3h-1zM616.0,274.1h1v17.3h-1zM617.0,274.1h1v17.3h-1zM621.0,274.1h1v17.3h-1zM627.0,274.1h1v17.3h-1zM643.0,274.1h1v17.3h-1zM653.0,274.1h1v17.3h-1zM670.0,274.1h1v17.3h-1z" fill="#faf2f2"/>
<path d="M547.0,274.1h1v17.3h-1zM575.0,274.1h1v17.3h-1zM590.0,274.1h1v17.3h-1zM619.0,274.1h1v17.3h-1zM631.0,274.1h1v17.3h-1zM632.0,274.1h1v17.3h-1z" fill="#f8eeee"/>
<path d="M527.0,274.1h1v17.3h-1zM532.0,274.1h1v17.3h-1zM534.0,274.1h1v17.3h-1zM545.0,274.1h1v17.3h-1zM561.0,274.1h1v17.3h-1zM578.0,274.1h1v17.3h-1zM579.0,274.1h1v17.3h-1zM605.0,274.1h1v17.3h-1zM613.0,274.1h1v17.3h-1z" fill="#f6eae9"/>
<path d="M594.0,274.1h1v17.3h-1zM645.0,274.1h1v17.3h-1zM650.0,274.1h1v17.3h-1zM674.0,274.1h1v17.3h-1zM675.0,274.1h1v17.3h-1z" fill="#f4e6e5"/>
<path d="M527.0,292.4h1v17.3h-1zM528.0,292.4h1v17.3h-1zM535.0,292.4h1v17.3h-1zM536.0,292.4h1v17.3h-1zM537.0,292.4h1v17.3h-1zM539.0,292.4h1v17.3h-1zM540.0,292.4h1v17.3h-1zM541.0,292.4h1v17.3h-1zM542.0,292.4h1v17.3h-1zM543.0,292.4h1v17.3h-1zM544.0,292.4h1v17.3h-1zM545.0,292.4h1v17.3h-1zM549.0,292.4h1v17.3h-1zM550.0,292.4h1v17.3h-1zM551.0,292.4h1v17.3h-1zM555.0,292.4h1v17.3h-1zM557.0,292.4h1v17.3h-1zM558.0,292.4h1v17.3h-1zM559.0,292.4h1v17.3h-1zM563.0,292.4h1v17.3h-1zM564.0,292.4h1v17.3h-1zM567.0,292.4h1v17.3h-1zM569.0,292.4h1v17.3h-1zM570.0,292.4h1v17.3h-1zM572.0,292.4h1v17.3h-1zM575.0,292.4h1v17.3h-1zM576.0,292.4h1v17.3h-1zM577.0,292.4h1v17.3h-1zM578.0,292.4h1v17.3h-1zM580.0,292.4h1v17.3h-1zM582.0,292.4h1v17.3h-1zM583.0,292.4h1v17.3h-1zM588.0,292.4h1v17.3h-1zM591.0,292.4h1v17.3h-1zM593.0,292.4h1v17.3h-1zM596.0,292.4h1v17.3h-1zM597.0,292.4h1v17.3h-1zM598.0,292.4h1v17.3h-1zM599.0,292.4h1v17.3h-1zM602.0,292.4h1v17.3h-1zM604.0,292.4h1v17.3h-1zM605.0,292.4h1v17.3h-1zM606.0,292.4h1v17.3h-1zM608.0,292.4h1v17.3h-1zM609.0,292.4h1v17.3h-1zM613.0,292.4h1v17.3h-1zM614.0,292.4h1v17.3h-1zM615.0,292.4h1v17.3h-1zM616.0,292.4h1v17.3h-1zM618.0,292.4h1v17.3h-1zM619.0,292.4h1v17.3h-1zM621.0,292.4h1v17.3h-1zM625.0,292.4h1v17.3h-1zM626.0,292.4h1v17.3h-1zM627.0,292.4h1v17.3h-1zM628.0,292.4h1v17.3h-1zM629.0,292.4h1v17.3h-1zM631.0,292.4h1v17.3h-1zM632.0,292.4h1v17.3h-1zM640.0,292.4h1v17.3h-1zM641.0,292.4h1v17.3h-1zM642.0,292.4h1v17.3h-1zM644.0,292.4h1v17.3h-1zM646.0,292.4h1v17.3h-1zM647.0,292.4h1v17.3h-1zM652.0,292.4h1v17.3h-1zM653.0,292.4h1v17.3h-1zM656.0,292.4h1v17.3h-1zM657.0,292.4h1v17.3h-1zM660.0,292.4h1v17.3h-1zM662.0,292.4h1v17.3h-1zM663.0,292.4h1v17.3h-1zM667.0,292.4h1v17.3h-1zM668.0,292.4h1v17.3h-1zM669.0,292.4h1v17.3h-1zM670.0,292.4h1v17.3h-1zM671.0,292.4h1v17.3h-1zM676.0,292.4h1v17.3h-1zM677.0,292.4h1v17.3h-1zM679.0,292.4h1v17.3h-1z" fill="#fdfbfb"/>
<path d="M529.0,292.4h1v17.3h-1zM530.0,292.4h1v17.3h-1zM532.0,292.4h1v17.3h-1zM533.0,292.4h1v17.3h-1zM546.0,292.4h1v17.3h-1zM547.0,292.4h1v17.3h-1zM548.0,292.4h1v17.3h-1zM556.0,292.4h1v17.3h-1zM561.0,292.4h1v17.3h-1zM562.0,292.4h1v17.3h-1zM565.0,292.4h1v17.3h-1zM566.0,292.4h1v17.3h-1zM584.0,292.4h1v17.3h-1zM589.0,292.4h1v17.3h-1zM590.0,292.4h1v17.3h-1zM592.0,292.4h1v17.3h-1zM595.0,292.4h1v17.3h-1zM601.0,292.4h1v17.3h-1zM603.0,292.4h1v17.3h-1zM607.0,292.4h1v17.3h-1zM610.0,292.4h1v17.3h-1zM611.0,292.4h1v17.3h-1zM612.0,292.4h1v17.3h-1zM620.0,292.4h1v17.3h-1zM622.0,292.4h1v17.3h-1zM623.0,292.4h1v17.3h-1zM624.0,292.4h1v17.3h-1zM633.0,292.4h1v17.3h-1zM634.0,292.4h1v17.3h-1zM638.0,292.4h1v17.3h-1zM639.0,292.4h1v17.3h-1zM643.0,292.4h1v17.3h-1zM645.0,292.4h1v17.3h-1zM648.0,292.4h1v17.3h-1zM649.0,292.4h1v17.3h-1zM651.0,292.4h1v17.3h-1zM655.0,292.4h1v17.3h-1zM659.0,292.4h1v17.3h-1zM666.0,292.4h1v17.3h-1zM672.0,292.4h1v17.3h-1zM674.0,292.4h1v17.3h-1zM675.0,292.4h1v17.3h-1zM678.0,292.4h1v17.3h-1zM680.0,292.4h1v17.3h-1zM681.0,292.4h1v17.3h-1z" fill="#fcf7f6"/>
<path d="M573.0,292.4h1v17.3h-1zM574.0,292.4h1v17.3h-1zM637.0,292.4h1v17.3h-1z" fill="#faf2f2"/>
<path d="M534.0,292.4h1v17.3h-1zM538.0,292.4h1v17.3h-1zM553.0,292.4h1v17.3h-1zM554.0,292.4h1v17.3h-1zM568.0,292.4h1v17.3h-1zM579.0,292.4h1v17.3h-1zM594.0,292.4h1v17.3h-1zM635.0,292.4h1v17.3h-1zM636.0,292.4h1v17.3h-1zM650.0,292.4h1v17.3h-1zM654.0,292.4h1v17.3h-1zM661.0,292.4h1v17.3h-1zM673.0,292.4h1v17.3h-1z" fill="#f8eeee"/>
<path d="M531.0,292.4h1v17.3h-1zM552.0,292.4h1v17.3h-1zM585.0,292.4h1v17.3h-1zM586.0,292.4h1v17.3h-1zM600.0,292.4h1v17.3h-1zM658.0,292.4h1v17.3h-1z" fill="#f6eae9"/>
<path d="M531.0,310.7h1v17.3h-1zM536.0,310.7h1v17.3h-1zM539.0,310.7h1v17.3h-1zM543.0,310.7h1v17.3h-1zM545.0,310.7h1v17.3h-1zM546.0,310.7h1v17.3h-1zM547.0,310.7h1v17.3h-1zM550.0,310.7h1v17.3h-1zM553.0,310.7h1v17.3h-1zM554.0,310.7h1v17.3h-1zM555.0,310.7h1v17.3h-1zM556.0,310.7h1v17.3h-1zM558.0,310.7h1v17.3h-1zM559.0,310.7h1v17.3h-1zM560.0,310.7h1v17.3h-1zM561.0,310.7h1v17.3h-1zM564.0,310.7h1v17.3h-1zM570.0,310.7h1v17.3h-1zM573.0,310.7h1v17.3h-1zM578.0,310.7h1v17.3h-1zM579.0,310.7h1v17.3h-1zM581.0,310.7h1v17.3h-1zM582.0,310.7h1v17.3h-1zM584.0,310.7h1v17.3h-1zM586.0,310.7h1v17.3h-1zM591.0,310.7h1v17.3h-1zM592.0,310.7h1v17.3h-1zM595.0,310.7h1v17.3h-1zM596.0,310.7h1v17.3h-1zM597.0,310.7h1v17.3h-1zM610.0,310.7h1v17.3h-1zM614.0,310.7h1v17.3h-1zM615.0,310.7h1v17.3h-1zM616.0,310.7h1v17.3h-1zM619.0,310.7h1v17.3h-1zM622.0,310.7h1v17.3h-1zM626.0,310.7h1v17.3h-1zM634.0,310.7h1v17.3h-1zM636.0,310.7h1v17.3h-1zM640.0,310.7h1v17.3h-1zM643.0,310.7h1v17.3h-1zM648.0,310.7h1v17.3h-1zM650.0,310.7h1v17.3h-1zM660.0,310.7h1v17.3h-1zM667.0,310.7h1v17.3h-1zM674.0,310.7h1v17.3h-1zM675.0,310.7h1v17.3h-1zM681.0,310.7h1v17.3h-1z" fill="#fdfbfb"/>
<path d="M540.0,310.7h1v17.3h-1zM548.0,310.7h1v17.3h-1zM666.0,310.7h1v17.3h-1z" fill="#faf2f2"/>
<path d="M532.0,310.7h1v17.3h-1zM565.0,310.7h1v17.3h-1zM566.0,310.7h1v17.3h-1zM585.0,310.7h1v17.3h-1zM588.0,310.7h1v17.3h-1zM662.0,310.7h1v17.3h-1zM668.0,310.7h1v17.3h-1z" fill="#f8eeee"/>
<path d="M535.0,310.7h1v17.3h-1zM628.0,310.7h1v17.3h-1z" fill="#f6eae9"/>
<path d="M677.0,310.7h1v17.3h-1z" fill="#f4e6e5"/>
<path d="M659.0,310.7h1v17.3h-1z" fill="#f3e2e0"/>
<path d="M620.0,310.7h1v17.3h-1zM657.0,310.7h1v17.3h-1z" fill="#efd9d8"/>
<path d="M618.0,310.7h1v17.3h-1zM639.0,310.7h1v17.3h-1z" fill="#ecd1cf"/>
<rect x="489.5" y="164.3" width="1.5" height="17.3" fill="#f7e4e3"/>
<rect x="492.5" y="164.3" width="1.5" height="17.3" fill="#f8e8e7"/>
<rect x="500.5" y="164.3" width="1.5" height="17.3" fill="#f8e8e7"/>
<rect x="503.5" y="164.3" width="1.5" height="17.3" fill="#f9eceb"/>
<rect x="494" y="219.2" width="1.5" height="17.3" fill="#efc8c8"/>
<rect x="522.5" y="219.2" width="1.5" height="17.3" fill="#fcf3f3"/>
<rect x="500.5" y="310.7" width="1.5" height="17.3" fill="#faefef"/>
<rect x="504.5" y="310.7" width="1.5" height="17.3" fill="#faefef"/>
<rect x="490" y="91.2" width="1.5" height="17.3" fill="#fdf7f7"/>
<rect x="491" y="127.8" width="1.5" height="17.3" fill="#fdf7f7"/>
<path d="M488.6,54 V330" stroke="#bbb" stroke-width="0.8"/>
<path d="M488.3,54 H684.3 V330.2 H488.3" fill="none" stroke="#555" stroke-width="0.9"/>
<path d="M525.9,54 V330.2" stroke="#444" stroke-width="1.4"/>
</svg>
</body></html>
